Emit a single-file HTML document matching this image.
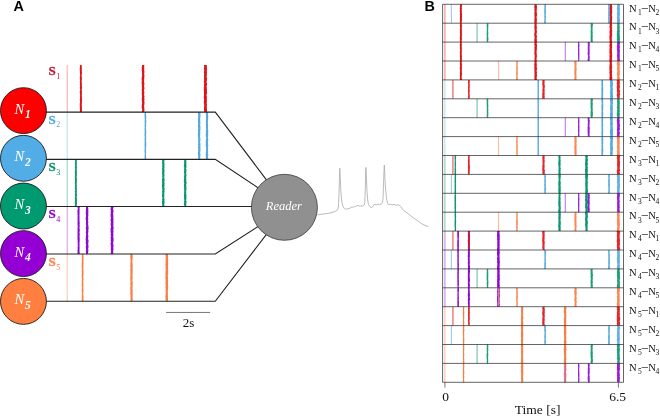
<!DOCTYPE html><html><head><meta charset="utf-8"><title>Figure</title><style>html,body{margin:0;padding:0;background:#fff}svg{display:block}text{font-family:"Liberation Serif",serif}.sans{font-family:"Liberation Sans",sans-serif;font-weight:bold}</style></head><body>
<svg width="660" height="416" viewBox="0 0 660 416">
<rect width="660" height="416" fill="#fff"/>
<line x1="67.2" y1="65.0" x2="67.2" y2="112.1" stroke="#f6a6a6" stroke-width="1"/>
<polygon points="79.87,65.00 80.02,66.00 79.97,67.00 79.76,68.01 79.75,69.01 79.76,70.01 79.92,71.01 79.79,72.01 80.01,73.02 79.98,74.02 80.16,75.02 80.11,76.02 79.79,77.03 79.87,78.03 79.81,79.03 80.01,80.03 79.97,81.03 79.76,82.04 80.03,83.04 79.87,84.04 79.93,85.04 80.08,86.04 79.84,87.05 79.96,88.05 80.05,89.05 80.16,90.05 79.91,91.06 79.80,92.06 79.75,93.06 80.07,94.06 80.11,95.06 80.04,96.07 79.99,97.07 80.10,98.07 79.94,99.07 79.76,100.07 80.01,101.08 80.09,102.08 79.90,103.08 79.74,104.08 79.80,105.09 79.76,106.09 79.79,107.09 79.90,108.09 79.77,109.09 79.97,110.10 80.09,111.10 79.85,112.10 81.81,112.10 82.01,111.10 82.02,110.10 81.83,109.09 82.01,108.09 81.74,107.09 81.97,106.09 81.68,105.09 81.83,104.08 81.92,103.08 81.76,102.08 82.07,101.08 81.94,100.07 81.92,99.07 82.04,98.07 81.83,97.07 81.89,96.07 81.77,95.06 81.88,94.06 81.92,93.06 81.85,92.06 81.96,91.06 81.68,90.05 81.76,89.05 82.01,88.05 81.88,87.05 81.94,86.04 81.76,85.04 81.89,84.04 81.82,83.04 81.72,82.04 81.66,81.03 81.79,80.03 81.89,79.03 81.99,78.03 81.68,77.03 81.76,76.02 81.65,75.02 81.80,74.02 82.05,73.02 81.73,72.01 81.99,71.01 81.67,70.01 81.82,69.01 81.85,68.01 81.79,67.00 81.66,66.00 81.70,65.00" fill="#e01418" opacity="1.0"/>
<polygon points="141.82,65.00 142.15,66.00 141.72,67.00 141.75,68.01 141.95,69.01 141.63,70.01 141.83,71.01 142.15,72.01 141.91,73.02 142.00,74.02 142.12,75.02 142.11,76.02 141.84,77.03 141.68,78.03 141.66,79.03 141.74,80.03 141.81,81.03 141.62,82.04 141.68,83.04 141.64,84.04 141.96,85.04 141.76,86.04 141.82,87.05 142.09,88.05 141.88,89.05 141.67,90.05 141.81,91.06 142.08,92.06 141.64,93.06 141.92,94.06 141.92,95.06 141.92,96.07 142.10,97.07 141.77,98.07 141.72,99.07 141.92,100.07 141.81,101.08 142.07,102.08 142.10,103.08 142.08,104.08 141.75,105.09 141.82,106.09 141.64,107.09 141.77,108.09 142.15,109.09 142.14,110.10 142.15,111.10 141.75,112.10 144.15,112.10 144.23,111.10 144.57,110.10 144.27,109.09 144.41,108.09 144.18,107.09 144.04,106.09 144.31,105.09 144.43,104.08 144.47,103.08 144.57,102.08 144.15,101.08 144.45,100.07 144.45,99.07 144.23,98.07 144.41,97.07 144.57,96.07 144.04,95.06 144.10,94.06 144.55,93.06 144.11,92.06 144.17,91.06 144.08,90.05 144.29,89.05 144.57,88.05 144.09,87.05 144.22,86.04 144.11,85.04 144.51,84.04 144.22,83.04 144.11,82.04 144.05,81.03 144.11,80.03 144.06,79.03 144.37,78.03 144.24,77.03 144.46,76.02 144.46,75.02 144.05,74.02 144.37,73.02 144.41,72.01 144.34,71.01 144.26,70.01 144.17,69.01 144.29,68.01 144.15,67.00 144.11,66.00 144.51,65.00" fill="#e01418" opacity="1.0"/>
<polygon points="203.80,65.00 204.08,66.00 204.22,67.00 204.10,68.01 203.73,69.01 204.26,70.01 204.16,71.01 203.79,72.01 203.89,73.02 204.30,74.02 203.94,75.02 204.15,76.02 203.76,77.03 204.26,78.03 203.77,79.03 204.31,80.03 203.90,81.03 203.76,82.04 204.30,83.04 204.02,84.04 203.96,85.04 204.21,86.04 203.84,87.05 203.83,88.05 203.84,89.05 203.76,90.05 203.91,91.06 204.05,92.06 203.95,93.06 204.00,94.06 204.02,95.06 203.96,96.07 203.68,97.07 203.79,98.07 204.15,99.07 203.89,100.07 204.04,101.08 203.75,102.08 203.84,103.08 204.18,104.08 204.04,105.09 204.27,106.09 204.07,107.09 204.01,108.09 203.97,109.09 203.99,110.10 204.13,111.10 204.29,112.10 206.64,112.10 207.04,111.10 207.09,110.10 206.82,109.09 206.92,108.09 206.80,107.09 206.76,106.09 206.97,105.09 206.80,104.08 206.66,103.08 206.84,102.08 206.98,101.08 206.81,100.07 206.84,99.07 206.78,98.07 206.99,97.07 206.60,96.07 206.49,95.06 206.82,94.06 207.07,93.06 207.06,92.06 206.77,91.06 207.06,90.05 206.75,89.05 206.86,88.05 206.67,87.05 206.61,86.04 207.04,85.04 207.08,84.04 206.90,83.04 206.49,82.04 206.83,81.03 206.90,80.03 207.01,79.03 207.00,78.03 206.57,77.03 206.59,76.02 207.09,75.02 206.73,74.02 206.99,73.02 206.99,72.01 206.79,71.01 206.98,70.01 206.90,69.01 206.99,68.01 206.79,67.00 207.06,66.00 206.61,65.00" fill="#e01418" opacity="1.0"/>
<line x1="67.2" y1="112.1" x2="67.2" y2="159.4" stroke="#b5dbf3" stroke-width="1"/>
<polygon points="144.67,112.10 144.77,113.11 144.52,114.11 144.50,115.12 144.50,116.13 144.75,117.13 144.53,118.14 144.71,119.14 144.78,120.15 144.55,121.16 144.61,122.16 144.82,123.17 144.53,124.18 144.66,125.18 144.54,126.19 144.73,127.20 144.67,128.20 144.48,129.21 144.69,130.21 144.50,131.22 144.75,132.23 144.51,133.23 144.49,134.24 144.57,135.25 144.62,136.25 144.76,137.26 144.53,138.27 144.67,139.27 144.51,140.28 144.72,141.29 144.50,142.29 144.70,143.30 144.51,144.30 144.50,145.31 144.63,146.32 144.67,147.32 144.57,148.33 144.66,149.34 144.51,150.34 144.49,151.35 144.58,152.36 144.74,153.36 144.65,154.37 144.60,155.37 144.56,156.38 144.73,157.39 144.54,158.39 144.80,159.40 146.01,159.40 146.14,158.39 146.17,157.39 145.98,156.38 145.98,155.37 146.04,154.37 146.08,153.36 146.08,152.36 146.05,151.35 146.03,150.34 146.06,149.34 146.02,148.33 146.30,147.32 146.09,146.32 146.28,145.31 146.27,144.30 146.25,143.30 146.30,142.29 146.12,141.29 146.00,140.28 146.22,139.27 146.30,138.27 146.07,137.26 146.29,136.25 146.02,135.25 146.25,134.24 146.07,133.23 146.31,132.23 146.32,131.22 146.15,130.21 146.09,129.21 146.13,128.20 145.98,127.20 146.09,126.19 146.09,125.18 146.13,124.18 146.27,123.17 146.15,122.16 146.31,121.16 146.31,120.15 146.03,119.14 146.22,118.14 146.29,117.13 146.21,116.13 146.06,115.12 146.13,114.11 146.02,113.11 146.30,112.10" fill="#55a9de" opacity="1.0"/>
<polygon points="198.26,112.10 198.10,113.11 198.05,114.11 198.20,115.12 198.02,116.13 198.20,117.13 198.05,118.14 197.87,119.14 197.88,120.15 197.98,121.16 197.89,122.16 198.29,123.17 197.99,124.18 197.99,125.18 197.93,126.19 197.98,127.20 198.34,128.20 197.97,129.21 198.00,130.21 197.85,131.22 198.09,132.23 197.95,133.23 197.85,134.24 197.89,135.25 197.87,136.25 198.00,137.26 198.14,138.27 198.23,139.27 198.21,140.28 198.04,141.29 198.35,142.29 198.21,143.30 197.87,144.30 198.30,145.31 198.22,146.32 197.92,147.32 198.10,148.33 198.25,149.34 198.14,150.34 198.19,151.35 197.96,152.36 197.91,153.36 197.90,154.37 198.13,155.37 198.16,156.38 198.09,157.39 198.25,158.39 198.10,159.40 200.32,159.40 200.43,158.39 200.05,157.39 200.39,156.38 200.36,155.37 200.47,154.37 200.23,153.36 200.06,152.36 200.40,151.35 200.50,150.34 200.47,149.34 200.47,148.33 200.31,147.32 200.46,146.32 200.36,145.31 200.47,144.30 200.37,143.30 200.12,142.29 200.21,141.29 200.49,140.28 200.38,139.27 200.31,138.27 200.16,137.26 200.06,136.25 200.25,135.25 200.18,134.24 200.30,133.23 200.30,132.23 200.24,131.22 200.23,130.21 200.54,129.21 200.32,128.20 200.53,127.20 200.27,126.19 200.28,125.18 200.17,124.18 200.39,123.17 200.47,122.16 200.13,121.16 200.42,120.15 200.11,119.14 200.22,118.14 200.37,117.13 200.47,116.13 200.54,115.12 200.30,114.11 200.47,113.11 200.27,112.10" fill="#55a9de" opacity="1.0"/>
<polygon points="205.98,112.10 206.02,113.11 205.68,114.11 206.02,115.12 206.02,116.13 205.90,117.13 205.89,118.14 206.04,119.14 205.97,120.15 205.72,121.16 206.02,122.16 205.93,123.17 205.68,124.18 205.99,125.18 205.99,126.19 205.91,127.20 205.88,128.20 206.10,129.21 206.14,130.21 205.66,131.22 206.06,132.23 205.87,133.23 205.75,134.24 205.75,135.25 205.72,136.25 206.13,137.26 206.06,138.27 206.10,139.27 205.76,140.28 205.89,141.29 205.65,142.29 205.88,143.30 205.72,144.30 205.81,145.31 205.65,146.32 206.07,147.32 206.12,148.33 206.10,149.34 205.84,150.34 206.15,151.35 205.83,152.36 205.79,153.36 205.70,154.37 205.79,155.37 205.77,156.38 205.91,157.39 205.84,158.39 206.10,159.40 208.26,159.40 208.33,158.39 207.94,157.39 207.98,156.38 208.32,155.37 208.27,154.37 207.87,153.36 208.06,152.36 208.15,151.35 208.05,150.34 207.99,149.34 208.21,148.33 207.91,147.32 208.23,146.32 208.27,145.31 208.02,144.30 208.00,143.30 208.10,142.29 207.86,141.29 208.30,140.28 208.20,139.27 208.10,138.27 207.91,137.26 208.11,136.25 208.14,135.25 208.33,134.24 207.98,133.23 208.34,132.23 208.08,131.22 208.32,130.21 207.95,129.21 207.91,128.20 208.08,127.20 207.99,126.19 208.20,125.18 207.98,124.18 207.85,123.17 208.00,122.16 207.98,121.16 207.89,120.15 208.16,119.14 208.19,118.14 208.04,117.13 208.34,116.13 207.95,115.12 207.98,114.11 207.97,113.11 207.88,112.10" fill="#55a9de" opacity="1.0"/>
<line x1="67.2" y1="159.4" x2="67.2" y2="206.5" stroke="#8fd1bb" stroke-width="1"/>
<polygon points="75.01,159.40 75.14,160.40 75.05,161.40 75.05,162.41 75.06,163.41 74.86,164.41 75.14,165.41 74.94,166.41 74.86,167.42 75.16,168.42 75.02,169.42 74.98,170.42 74.80,171.43 74.82,172.43 74.95,173.43 75.13,174.43 74.93,175.43 74.82,176.44 74.88,177.44 74.84,178.44 74.98,179.44 75.06,180.44 74.91,181.45 74.90,182.45 74.76,183.45 75.16,184.45 74.95,185.46 75.11,186.46 74.85,187.46 74.91,188.46 75.15,189.46 75.11,190.47 74.74,191.47 75.12,192.47 74.99,193.47 74.90,194.47 75.09,195.48 75.16,196.48 74.78,197.48 74.96,198.48 75.14,199.49 75.01,200.49 74.93,201.49 74.75,202.49 74.83,203.49 75.01,204.50 74.79,205.50 75.01,206.50 76.94,206.50 76.74,205.50 76.76,204.50 77.03,203.49 76.97,202.49 76.87,201.49 76.97,200.49 76.95,199.49 76.93,198.48 76.70,197.48 76.74,196.48 77.01,195.48 77.04,194.47 76.63,193.47 76.84,192.47 76.94,191.47 76.64,190.47 77.00,189.46 76.83,188.46 76.74,187.46 76.73,186.46 76.91,185.46 76.69,184.45 76.75,183.45 76.78,182.45 76.86,181.45 76.81,180.44 77.02,179.44 76.74,178.44 76.67,177.44 76.67,176.44 76.69,175.43 77.07,174.43 76.73,173.43 77.03,172.43 76.70,171.43 76.80,170.42 76.76,169.42 76.74,168.42 76.95,167.42 76.78,166.41 76.69,165.41 76.65,164.41 76.91,163.41 76.83,162.41 76.65,161.40 76.87,160.40 77.03,159.40" fill="#0a9670" opacity="1.0"/>
<polygon points="161.94,159.40 162.16,160.40 162.09,161.40 162.20,162.41 162.04,163.41 162.39,164.41 162.35,165.41 162.01,166.41 162.39,167.42 162.05,168.42 162.15,169.42 162.11,170.42 162.24,171.43 162.00,172.43 162.06,173.43 162.25,174.43 162.31,175.43 162.15,176.44 162.40,177.44 162.32,178.44 162.00,179.44 162.04,180.44 162.15,181.45 162.00,182.45 162.24,183.45 161.96,184.45 162.00,185.46 161.96,186.46 161.92,187.46 162.36,188.46 162.27,189.46 162.38,190.47 161.98,191.47 162.28,192.47 162.24,193.47 162.08,194.47 161.97,195.48 162.03,196.48 162.39,197.48 162.40,198.48 162.07,199.49 162.32,200.49 161.91,201.49 162.08,202.49 161.99,203.49 162.36,204.50 162.10,205.50 162.29,206.50 164.21,206.50 164.62,205.50 164.20,204.50 164.38,203.49 164.67,202.49 164.44,201.49 164.41,200.49 164.62,199.49 164.29,198.48 164.25,197.48 164.37,196.48 164.19,195.48 164.36,194.47 164.39,193.47 164.20,192.47 164.68,191.47 164.36,190.47 164.71,189.46 164.65,188.46 164.39,187.46 164.21,186.46 164.70,185.46 164.39,184.45 164.69,183.45 164.41,182.45 164.28,181.45 164.69,180.44 164.59,179.44 164.31,178.44 164.35,177.44 164.29,176.44 164.58,175.43 164.29,174.43 164.41,173.43 164.20,172.43 164.68,171.43 164.32,170.42 164.54,169.42 164.20,168.42 164.56,167.42 164.32,166.41 164.44,165.41 164.53,164.41 164.43,163.41 164.19,162.41 164.30,161.40 164.49,160.40 164.22,159.40" fill="#0a9670" opacity="1.0"/>
<polygon points="183.80,159.40 184.27,160.40 184.18,161.40 183.96,162.41 184.29,163.41 183.92,164.41 183.95,165.41 183.79,166.41 184.27,167.42 184.29,168.42 183.91,169.42 184.29,170.42 183.99,171.43 184.01,172.43 184.28,173.43 184.21,174.43 184.22,175.43 184.11,176.44 183.95,177.44 184.20,178.44 183.89,179.44 183.92,180.44 183.80,181.45 183.96,182.45 184.25,183.45 183.93,184.45 183.84,185.46 184.16,186.46 183.91,187.46 184.11,188.46 184.18,189.46 184.14,190.47 184.23,191.47 184.09,192.47 184.18,193.47 183.92,194.47 183.87,195.48 184.09,196.48 183.99,197.48 184.05,198.48 184.21,199.49 184.31,200.49 184.04,201.49 184.23,202.49 183.81,203.49 183.85,204.50 184.30,205.50 184.28,206.50 186.28,206.50 186.39,205.50 186.19,204.50 186.24,203.49 186.57,202.49 186.52,201.49 186.14,200.49 186.43,199.49 186.21,198.48 186.61,197.48 186.26,196.48 186.55,195.48 186.21,194.47 186.19,193.47 186.28,192.47 186.24,191.47 186.15,190.47 186.53,189.46 186.44,188.46 186.31,187.46 186.32,186.46 186.35,185.46 186.13,184.45 186.61,183.45 186.60,182.45 186.38,181.45 186.12,180.44 186.48,179.44 186.13,178.44 186.28,177.44 186.26,176.44 186.49,175.43 186.48,174.43 186.18,173.43 186.35,172.43 186.22,171.43 186.59,170.42 186.34,169.42 186.10,168.42 186.42,167.42 186.49,166.41 186.23,165.41 186.46,164.41 186.41,163.41 186.23,162.41 186.56,161.40 186.22,160.40 186.12,159.40" fill="#0a9670" opacity="1.0"/>
<line x1="67.2" y1="206.5" x2="67.2" y2="254.0" stroke="#d39af0" stroke-width="1"/>
<polygon points="77.77,206.50 77.49,207.49 77.81,208.48 77.64,209.47 77.47,210.46 77.43,211.45 77.49,212.44 77.67,213.43 77.37,214.42 77.68,215.41 77.51,216.40 77.74,217.39 77.40,218.38 77.55,219.36 77.66,220.35 77.44,221.34 77.56,222.33 77.51,223.32 77.51,224.31 77.53,225.30 77.77,226.29 77.54,227.28 77.71,228.27 77.37,229.26 77.56,230.25 77.56,231.24 77.58,232.23 77.38,233.22 77.66,234.21 77.41,235.20 77.54,236.19 77.44,237.18 77.61,238.17 77.42,239.16 77.74,240.15 77.46,241.14 77.80,242.12 77.59,243.11 77.80,244.10 77.79,245.09 77.75,246.08 77.73,247.07 77.56,248.06 77.75,249.05 77.47,250.04 77.61,251.03 77.43,252.02 77.70,253.01 77.39,254.00 79.63,254.00 79.78,253.01 79.48,252.02 79.55,251.03 79.55,250.04 79.45,249.05 79.76,248.06 79.47,247.07 79.44,246.08 79.66,245.09 79.55,244.10 79.39,243.11 79.82,242.12 79.43,241.14 79.82,240.15 79.60,239.16 79.80,238.17 79.50,237.18 79.60,236.19 79.66,235.20 79.79,234.21 79.62,233.22 79.44,232.23 79.78,231.24 79.75,230.25 79.79,229.26 79.46,228.27 79.46,227.28 79.83,226.29 79.56,225.30 79.63,224.31 79.81,223.32 79.50,222.33 79.69,221.34 79.41,220.35 79.62,219.36 79.42,218.38 79.62,217.39 79.46,216.40 79.45,215.41 79.52,214.42 79.46,213.43 79.65,212.44 79.46,211.45 79.54,210.46 79.66,209.47 79.42,208.48 79.73,207.49 79.58,206.50" fill="#8f0ad0" opacity="1.0"/>
<polygon points="86.04,206.50 86.09,207.49 85.96,208.48 85.97,209.47 85.86,210.46 85.86,211.45 85.87,212.44 85.64,213.43 85.89,214.42 86.05,215.41 85.88,216.40 85.89,217.39 85.69,218.38 85.67,219.36 85.91,220.35 85.98,221.34 86.03,222.33 85.91,223.32 85.90,224.31 86.15,225.30 86.10,226.29 86.03,227.28 85.73,228.27 85.90,229.26 86.13,230.25 86.06,231.24 85.66,232.23 86.04,233.22 86.12,234.21 86.07,235.20 85.90,236.19 85.74,237.18 85.90,238.17 85.64,239.16 85.71,240.15 86.00,241.14 85.72,242.12 85.69,243.11 85.98,244.10 86.11,245.09 85.94,246.08 85.68,247.07 85.97,248.06 86.06,249.05 86.17,250.04 85.82,251.03 85.87,252.02 86.03,253.01 86.08,254.00 88.16,254.00 88.05,253.01 88.12,252.02 88.45,251.03 88.34,250.04 88.17,249.05 88.24,248.06 88.57,247.07 88.51,246.08 88.33,245.09 88.22,244.10 88.32,243.11 88.46,242.12 88.52,241.14 88.54,240.15 88.12,239.16 88.20,238.17 88.17,237.18 88.53,236.19 88.10,235.20 88.18,234.21 88.11,233.22 88.22,232.23 88.54,231.24 88.11,230.25 88.55,229.26 88.57,228.27 88.47,227.28 88.57,226.29 88.10,225.30 88.23,224.31 88.05,223.32 88.45,222.33 88.07,221.34 88.05,220.35 88.27,219.36 88.26,218.38 88.08,217.39 88.12,216.40 88.46,215.41 88.15,214.42 88.37,213.43 88.27,212.44 88.39,211.45 88.35,210.46 88.19,209.47 88.33,208.48 88.09,207.49 88.04,206.50" fill="#8f0ad0" opacity="1.0"/>
<polygon points="110.88,206.50 110.85,207.49 110.69,208.48 110.52,209.47 110.87,210.46 110.81,211.45 110.58,212.44 110.89,213.43 110.50,214.42 110.56,215.41 110.63,216.40 110.85,217.39 110.87,218.38 110.58,219.36 110.65,220.35 110.56,221.34 111.02,222.33 110.74,223.32 110.51,224.31 110.84,225.30 110.89,226.29 111.06,227.28 110.65,228.27 110.53,229.26 110.74,230.25 110.54,231.24 110.51,232.23 111.06,233.22 110.62,234.21 110.80,235.20 110.99,236.19 110.69,237.18 110.53,238.17 110.97,239.16 110.50,240.15 110.95,241.14 110.95,242.12 110.64,243.11 110.64,244.10 110.70,245.09 110.92,246.08 110.93,247.07 110.83,248.06 110.97,249.05 110.66,250.04 111.08,251.03 111.03,252.02 110.66,253.01 110.95,254.00 113.67,254.00 113.24,253.01 113.11,252.02 113.23,251.03 113.49,250.04 113.41,249.05 113.36,248.06 113.26,247.07 113.61,246.08 113.55,245.09 113.12,244.10 113.16,243.11 113.37,242.12 113.38,241.14 113.61,240.15 113.53,239.16 113.63,238.17 113.28,237.18 113.20,236.19 113.48,235.20 113.46,234.21 113.19,233.22 113.43,232.23 113.57,231.24 113.24,230.25 113.42,229.26 113.64,228.27 113.54,227.28 113.37,226.29 113.31,225.30 113.49,224.31 113.26,223.32 113.57,222.33 113.48,221.34 113.19,220.35 113.66,219.36 113.38,218.38 113.22,217.39 113.45,216.40 113.31,215.41 113.31,214.42 113.11,213.43 113.24,212.44 113.64,211.45 113.36,210.46 113.19,209.47 113.10,208.48 113.50,207.49 113.69,206.50" fill="#8f0ad0" opacity="1.0"/>
<line x1="67.2" y1="254.0" x2="67.2" y2="301.3" stroke="#fdc3a6" stroke-width="1"/>
<polygon points="81.89,254.00 81.94,255.01 81.70,256.01 81.85,257.02 81.86,258.03 81.79,259.03 81.87,260.04 81.78,261.04 81.83,262.05 81.69,263.06 81.64,264.06 81.67,265.07 81.65,266.08 81.74,267.08 81.63,268.09 81.87,269.10 81.87,270.10 81.64,271.11 81.75,272.11 81.92,273.12 81.64,274.13 81.95,275.13 81.65,276.14 81.66,277.15 81.93,278.15 81.85,279.16 81.85,280.17 81.65,281.17 81.90,282.18 81.73,283.19 81.62,284.19 81.72,285.20 81.75,286.20 81.97,287.21 81.93,288.22 81.63,289.22 81.78,290.23 81.74,291.24 81.81,292.24 81.93,293.25 81.92,294.26 81.62,295.26 81.90,296.27 81.62,297.27 81.80,298.28 81.68,299.29 81.74,300.29 81.71,301.30 83.56,301.30 83.52,300.29 83.40,299.29 83.51,298.28 83.40,297.27 83.58,296.27 83.29,295.26 83.28,294.26 83.25,293.25 83.30,292.24 83.48,291.24 83.50,290.23 83.37,289.22 83.44,288.22 83.40,287.21 83.33,286.20 83.48,285.20 83.31,284.19 83.37,283.19 83.29,282.18 83.25,281.17 83.32,280.17 83.52,279.16 83.52,278.15 83.23,277.15 83.29,276.14 83.56,275.13 83.54,274.13 83.54,273.12 83.52,272.11 83.43,271.11 83.49,270.10 83.45,269.10 83.23,268.09 83.27,267.08 83.56,266.08 83.23,265.07 83.55,264.06 83.45,263.06 83.33,262.05 83.48,261.04 83.53,260.04 83.53,259.03 83.58,258.03 83.47,257.02 83.55,256.01 83.34,255.01 83.34,254.00" fill="#f97e45" opacity="1.0"/>
<polygon points="130.29,254.00 130.50,255.01 130.20,256.01 130.19,257.02 130.50,258.03 130.46,259.03 130.35,260.04 130.60,261.04 130.60,262.05 130.25,263.06 130.60,264.06 130.34,265.07 130.26,266.08 130.42,267.08 130.53,268.09 130.32,269.10 130.23,270.10 130.48,271.11 130.23,272.11 130.54,273.12 130.21,274.13 130.60,275.13 130.24,276.14 130.50,277.15 130.22,278.15 130.27,279.16 130.41,280.17 130.31,281.17 130.64,282.18 130.20,283.19 130.20,284.19 130.65,285.20 130.52,286.20 130.25,287.21 130.20,288.22 130.34,289.22 130.35,290.23 130.50,291.24 130.47,292.24 130.22,293.25 130.35,294.26 130.61,295.26 130.44,296.27 130.36,297.27 130.51,298.28 130.54,299.29 130.58,300.29 130.47,301.30 132.58,301.30 132.69,300.29 132.70,299.29 132.79,298.28 132.46,297.27 132.73,296.27 132.56,295.26 132.72,294.26 132.65,293.25 132.58,292.24 132.60,291.24 132.75,290.23 132.36,289.22 132.45,288.22 132.67,287.21 132.57,286.20 132.75,285.20 132.54,284.19 132.83,283.19 132.72,282.18 132.44,281.17 132.43,280.17 132.51,279.16 132.43,278.15 132.77,277.15 132.50,276.14 132.47,275.13 132.58,274.13 132.64,273.12 132.57,272.11 132.72,271.11 132.77,270.10 132.51,269.10 132.67,268.09 132.73,267.08 132.58,266.08 132.79,265.07 132.60,264.06 132.48,263.06 132.36,262.05 132.39,261.04 132.55,260.04 132.53,259.03 132.75,258.03 132.75,257.02 132.67,256.01 132.60,255.01 132.46,254.00" fill="#f97e45" opacity="1.0"/>
<polygon points="165.50,254.00 165.38,255.01 165.76,256.01 165.67,257.02 165.56,258.03 165.67,259.03 165.70,260.04 165.42,261.04 165.75,262.05 165.59,263.06 165.34,264.06 165.41,265.07 165.84,266.08 165.38,267.08 165.62,268.09 165.61,269.10 165.78,270.10 165.55,271.11 165.44,272.11 165.54,273.12 165.39,274.13 165.52,275.13 165.48,276.14 165.33,277.15 165.56,278.15 165.52,279.16 165.45,280.17 165.84,281.17 165.44,282.18 165.54,283.19 165.39,284.19 165.77,285.20 165.58,286.20 165.45,287.21 165.52,288.22 165.78,289.22 165.58,290.23 165.63,291.24 165.78,292.24 165.79,293.25 165.53,294.26 165.56,295.26 165.32,296.27 165.48,297.27 165.49,298.28 165.56,299.29 165.69,300.29 165.84,301.30 168.20,301.30 167.92,300.29 168.08,299.29 167.99,298.28 167.86,297.27 168.12,296.27 167.83,295.26 167.86,294.26 167.87,293.25 167.92,292.24 167.79,291.24 167.89,290.23 168.18,289.22 168.08,288.22 168.26,287.21 168.03,286.20 168.07,285.20 168.15,284.19 167.84,283.19 168.17,282.18 168.01,281.17 168.13,280.17 167.87,279.16 168.11,278.15 167.95,277.15 167.94,276.14 167.75,275.13 168.27,274.13 168.15,273.12 168.10,272.11 168.25,271.11 168.01,270.10 168.08,269.10 168.12,268.09 168.04,267.08 168.01,266.08 168.16,265.07 168.02,264.06 168.26,263.06 167.94,262.05 168.09,261.04 168.24,260.04 167.95,259.03 167.98,258.03 167.86,257.02 168.12,256.01 167.96,255.01 168.07,254.00" fill="#f97e45" opacity="1.0"/>
<polyline points="40,112.1 215.3,112.1 268.5,182.6" fill="none" stroke="#222" stroke-width="1.1" stroke-linejoin="miter"/>
<polyline points="40,159.4 215.3,159.4 263,191.0" fill="none" stroke="#222" stroke-width="1.1" stroke-linejoin="miter"/>
<polyline points="40,206.5 255,206.5" fill="none" stroke="#222" stroke-width="1.1"/>
<polyline points="40,254.0 215.3,254.0 263,223.3" fill="none" stroke="#222" stroke-width="1.1" stroke-linejoin="miter"/>
<polyline points="40,301.3 215.3,301.3 268.5,231.6" fill="none" stroke="#222" stroke-width="1.1" stroke-linejoin="miter"/>
<circle cx="23.45" cy="110.65" r="22.95" fill="#ff0000" stroke="#1a1a1a" stroke-width="0.9"/>
<text x="14.6" y="113.6" font-size="14.5" font-style="italic" fill="#fff">N</text>
<text x="25.1" y="118.2" font-size="11.5" font-style="italic" font-weight="bold" fill="#fff">1</text>
<circle cx="23.45" cy="158.3" r="22.95" fill="#52ade6" stroke="#1a1a1a" stroke-width="0.9"/>
<text x="14.6" y="161.2" font-size="14.5" font-style="italic" fill="#fff">N</text>
<text x="25.1" y="165.9" font-size="11.5" font-style="italic" font-weight="bold" fill="#fff">2</text>
<circle cx="23.45" cy="206.05" r="22.95" fill="#009a70" stroke="#1a1a1a" stroke-width="0.9"/>
<text x="14.6" y="209.0" font-size="14.5" font-style="italic" fill="#fff">N</text>
<text x="25.1" y="213.7" font-size="11.5" font-style="italic" font-weight="bold" fill="#fff">3</text>
<circle cx="23.45" cy="253.6" r="22.95" fill="#9400d3" stroke="#1a1a1a" stroke-width="0.9"/>
<text x="14.6" y="256.5" font-size="14.5" font-style="italic" fill="#fff">N</text>
<text x="25.1" y="261.2" font-size="11.5" font-style="italic" font-weight="bold" fill="#fff">4</text>
<circle cx="23.45" cy="301.4" r="22.95" fill="#ff7f40" stroke="#1a1a1a" stroke-width="0.9"/>
<text x="14.6" y="304.3" font-size="14.5" font-style="italic" fill="#fff">N</text>
<text x="25.1" y="309.0" font-size="11.5" font-style="italic" font-weight="bold" fill="#fff">5</text>
<text x="48.6" y="74.8" font-size="13" font-weight="bold" fill="#c8142c" stroke="#c8142c" stroke-width="0.3">S</text>
<text x="56.3" y="78.5" font-size="8" fill="#c8142c">1</text>
<text x="48.6" y="123.7" font-size="13" font-weight="bold" fill="#56a8e0" stroke="#56a8e0" stroke-width="0.3">S</text>
<text x="56.3" y="127.4" font-size="8" fill="#56a8e0">2</text>
<text x="48.6" y="171.2" font-size="13" font-weight="bold" fill="#0a9068" stroke="#0a9068" stroke-width="0.3">S</text>
<text x="56.3" y="174.9" font-size="8" fill="#0a9068">3</text>
<text x="48.6" y="218.4" font-size="13" font-weight="bold" fill="#9400d3" stroke="#9400d3" stroke-width="0.3">S</text>
<text x="56.3" y="222.1" font-size="8" fill="#9400d3">4</text>
<text x="48.6" y="266.1" font-size="13" font-weight="bold" fill="#ff8044" stroke="#ff8044" stroke-width="0.3">S</text>
<text x="56.3" y="269.8" font-size="8" fill="#ff8044">5</text>
<circle cx="284.4" cy="207.3" r="33" fill="#909090" stroke="#3a3a3a" stroke-width="0.8"/>
<text x="265.8" y="209.8" font-size="12.5" font-style="italic" fill="#fff">Reader</text>
<polyline points="317.3,214.9 322,214.2 328.3,213.4 332,212.5 335.6,211.3 337.6,209.8 338.4,207 339.0,195 339.5,175 339.8,168.2 340.2,176 340.9,192 341.8,202 342.9,206.1 344.2,208.4 345.6,209.4 347.5,208.6 349,208.9 350.5,207.6 352,207 353.5,207.3 355,206.2 356.6,206.1 358,205.2 359.5,206.2 361,205.9 363,206.1 364.2,205 364.8,202.5 365.3,188 365.7,172 365.9,167.4 366.3,175 367,191.5 367.7,200 368.4,204.3 369.8,206.6 371.2,207.6 372.6,206.9 373.6,205.2 374.8,204.3 376.5,204.9 378,204 379.5,204.6 381.2,204.3 382.4,202.6 383,198.8 383.6,182 384.0,170 384.3,165 384.7,172 385.2,184 385.8,191.5 386.6,199 387.6,203.4 389,204.6 390.4,204.3 392,204.9 394,204.5 396,205.4 397.5,204.8 399.5,205.2 400.8,206.6 402.2,208.9 405,211.5 408,213.6 412.3,217.1 417,220.3 421.4,223.5 425,225.4 428.4,226.6" fill="none" stroke="#aaaaaa" stroke-width="0.8" stroke-linejoin="round"/>
<line x1="166.1" y1="312.45" x2="210.1" y2="312.45" stroke="#666" stroke-width="0.9"/>
<text x="188.6" y="326.7" font-size="13" text-anchor="middle" fill="#111">2s</text>
<text class="sans" x="13.6" y="10.7" font-size="14.4" fill="#000">A</text>
<text class="sans" x="424.5" y="10.6" font-size="14.4" fill="#000">B</text>
<line x1="444.9" y1="4.30" x2="444.9" y2="23.20" stroke="#f7abab" stroke-width="1.5"/>
<polygon points="459.76,4.30 460.13,5.29 459.79,6.29 460.01,7.28 459.74,8.28 460.02,9.27 459.78,10.27 459.83,11.26 459.88,12.26 460.13,13.25 459.80,14.25 460.00,15.24 460.02,16.24 460.08,17.23 459.82,18.23 459.96,19.22 459.92,20.22 459.97,21.21 459.83,22.21 459.95,23.20 461.66,23.20 461.69,22.21 461.75,21.21 462.02,20.22 461.96,19.22 461.93,18.23 462.00,17.23 462.02,16.24 461.97,15.24 462.02,14.25 461.98,13.25 461.70,12.26 461.97,11.26 461.69,10.27 461.74,9.27 462.05,8.28 461.64,7.28 462.00,6.29 461.97,5.29 461.99,4.30" fill="#e01418" opacity="1.0"/>
<polygon points="534.43,4.30 534.45,5.29 534.47,6.29 534.19,7.28 534.43,8.28 534.54,9.27 534.38,10.27 534.69,11.26 534.52,12.26 534.20,13.25 534.55,14.25 534.36,15.24 534.46,16.24 534.66,17.23 534.57,18.23 534.36,19.22 534.38,20.22 534.46,21.21 534.30,22.21 534.41,23.20 536.78,23.20 536.72,22.21 536.89,21.21 536.74,20.22 536.94,19.22 536.82,18.23 536.50,17.23 536.74,16.24 537.01,15.24 536.98,14.25 536.81,13.25 536.82,12.26 536.52,11.26 536.71,10.27 536.93,9.27 536.78,8.28 536.93,7.28 536.94,6.29 536.75,5.29 536.56,4.30" fill="#e01418" opacity="1.0"/>
<polygon points="609.74,4.30 609.74,5.29 609.55,6.29 609.55,7.28 609.64,8.28 609.45,9.27 609.43,10.27 609.63,11.26 609.28,12.26 609.77,13.25 609.29,14.25 609.27,15.24 609.79,16.24 609.64,17.23 609.79,18.23 609.62,19.22 609.66,20.22 609.65,21.21 609.65,22.21 609.70,23.20 611.82,23.20 612.03,22.21 611.88,21.21 612.11,20.22 612.12,19.22 612.11,18.23 612.22,17.23 612.11,16.24 611.87,15.24 611.93,14.25 612.08,13.25 612.18,12.26 612.21,11.26 612.10,10.27 611.94,9.27 612.22,8.28 612.32,7.28 611.92,6.29 611.99,5.29 611.93,4.30" fill="#e01418" opacity="1.0"/>
<line x1="451.4" y1="4.30" x2="451.4" y2="23.20" stroke="#86bde3" stroke-width="1.1" opacity="0.8"/>
<polygon points="544.12,4.30 544.36,5.29 544.31,6.29 544.38,7.28 544.27,8.28 544.17,9.27 544.18,10.27 544.31,11.26 544.08,12.26 544.07,13.25 544.37,14.25 544.41,15.24 544.06,16.24 544.29,17.23 544.44,18.23 544.22,19.22 544.31,20.22 544.11,21.21 544.06,22.21 544.10,23.20 546.13,23.20 546.02,22.21 545.76,21.21 545.84,20.22 545.79,19.22 545.94,18.23 546.12,17.23 545.91,16.24 545.93,15.24 545.98,14.25 545.80,13.25 545.98,12.26 546.12,11.26 545.92,10.27 545.92,9.27 545.86,8.28 546.06,7.28 545.90,6.29 546.11,5.29 545.77,4.30" fill="#55a9de" opacity="0.92"/>
<polygon points="607.99,4.30 608.00,5.29 608.24,6.29 608.24,7.28 607.97,8.28 608.23,9.27 608.24,10.27 608.20,11.26 608.13,12.26 608.05,13.25 608.24,14.25 607.96,15.24 608.27,16.24 608.08,17.23 608.02,18.23 608.14,19.22 608.10,20.22 608.13,21.21 608.01,22.21 608.10,23.20 609.91,23.20 609.97,22.21 609.92,21.21 609.88,20.22 609.68,19.22 609.99,18.23 609.94,17.23 609.69,16.24 609.91,15.24 609.66,14.25 610.03,13.25 610.02,12.26 609.93,11.26 609.69,10.27 609.99,9.27 609.96,8.28 609.73,7.28 609.75,6.29 609.66,5.29 609.99,4.30" fill="#55a9de" opacity="0.92"/>
<polygon points="617.13,4.30 616.98,5.29 617.33,6.29 617.09,7.28 616.78,8.28 617.18,9.27 616.95,10.27 617.35,11.26 617.11,12.26 617.01,13.25 616.97,14.25 617.11,15.24 617.24,16.24 616.74,17.23 617.00,18.23 617.25,19.22 616.76,20.22 617.24,21.21 617.09,22.21 617.27,23.20 619.94,23.20 619.61,22.21 619.98,21.21 619.96,20.22 619.99,19.22 619.80,18.23 619.60,17.23 619.61,16.24 620.00,15.24 619.87,14.25 619.99,13.25 619.63,12.26 619.96,11.26 619.82,10.27 619.95,9.27 620.05,8.28 619.62,7.28 619.93,6.29 619.93,5.29 619.70,4.30" fill="#55a9de" opacity="0.92"/>
<line x1="444.9" y1="23.20" x2="444.9" y2="42.10" stroke="#f7abab" stroke-width="1.5"/>
<polygon points="460.03,23.20 459.88,24.19 459.97,25.19 459.82,26.18 460.14,27.18 460.00,28.17 459.93,29.17 459.84,30.16 460.08,31.16 459.77,32.15 460.07,33.15 459.98,34.14 460.12,35.14 459.94,36.13 459.81,37.13 459.81,38.12 459.89,39.12 459.91,40.11 459.80,41.11 460.17,42.10 461.79,42.10 461.65,41.11 461.86,40.11 461.88,39.12 461.94,38.12 461.72,37.13 461.89,36.13 461.86,35.14 462.02,34.14 461.73,33.15 461.98,32.15 461.83,31.16 461.96,30.16 461.72,29.17 461.93,28.17 461.73,27.18 461.96,26.18 461.98,25.19 461.67,24.19 462.03,23.20" fill="#e01418" opacity="1.0"/>
<polygon points="534.24,23.20 534.60,24.19 534.50,25.19 534.46,26.18 534.20,27.18 534.64,28.17 534.49,29.17 534.60,30.16 534.69,31.16 534.62,32.15 534.32,33.15 534.29,34.14 534.23,35.14 534.48,36.13 534.43,37.13 534.67,38.12 534.50,39.12 534.25,40.11 534.32,41.11 534.52,42.10 536.99,42.10 536.78,41.11 536.99,40.11 536.70,39.12 536.52,38.12 536.99,37.13 536.95,36.13 536.51,35.14 536.58,34.14 536.50,33.15 537.00,32.15 536.89,31.16 536.71,30.16 536.62,29.17 536.74,28.17 537.01,27.18 536.50,26.18 536.67,25.19 536.57,24.19 536.82,23.20" fill="#e01418" opacity="1.0"/>
<polygon points="609.65,23.20 609.52,24.19 609.82,25.19 609.39,26.18 609.41,27.18 609.78,28.17 609.74,29.17 609.72,30.16 609.63,31.16 609.29,32.15 609.70,33.15 609.65,34.14 609.60,35.14 609.32,36.13 609.41,37.13 609.54,38.12 609.40,39.12 609.65,40.11 609.68,41.11 609.28,42.10 612.30,42.10 611.87,41.11 611.77,40.11 611.84,39.12 611.86,38.12 611.83,37.13 611.95,36.13 612.20,35.14 611.93,34.14 612.30,33.15 611.85,32.15 612.33,31.16 612.17,30.16 611.79,29.17 612.28,28.17 611.96,27.18 611.78,26.18 612.33,25.19 611.85,24.19 611.99,23.20" fill="#e01418" opacity="1.0"/>
<line x1="477.1" y1="23.20" x2="477.1" y2="42.10" stroke="#57b99a" stroke-width="1.2" opacity="0.8"/>
<polygon points="486.65,23.20 486.88,24.19 486.63,25.19 486.61,26.18 486.87,27.18 486.73,28.17 486.86,29.17 486.79,30.16 486.65,31.16 486.82,32.15 486.63,33.15 486.67,34.14 486.63,35.14 486.87,36.13 486.64,37.13 486.69,38.12 486.62,39.12 486.60,40.11 486.81,41.11 486.74,42.10 488.18,42.10 488.15,41.11 488.39,40.11 488.42,39.12 488.39,38.12 488.25,37.13 488.19,36.13 488.17,35.14 488.22,34.14 488.38,33.15 488.27,32.15 488.10,31.16 488.13,30.16 488.24,29.17 488.19,28.17 488.29,27.18 488.40,26.18 488.23,25.19 488.38,24.19 488.40,23.20" fill="#0a9670" opacity="0.92"/>
<polygon points="590.53,23.20 590.58,24.19 590.89,25.19 590.45,26.18 590.84,27.18 590.76,28.17 590.88,29.17 590.80,30.16 590.48,31.16 590.81,32.15 590.50,33.15 590.85,34.14 590.68,35.14 590.49,36.13 590.75,37.13 590.45,38.12 590.70,39.12 590.54,40.11 590.70,41.11 590.80,42.10 592.79,42.10 592.85,41.11 592.61,40.11 592.75,39.12 592.55,38.12 592.60,37.13 592.88,36.13 592.57,35.14 592.61,34.14 592.72,33.15 592.76,32.15 592.51,31.16 592.67,30.16 592.52,29.17 592.65,28.17 592.54,27.18 592.65,26.18 592.96,25.19 592.99,24.19 592.61,23.20" fill="#0a9670" opacity="0.92"/>
<polygon points="616.86,23.20 617.19,24.19 617.19,25.19 617.24,26.18 617.26,27.18 617.05,28.17 617.31,29.17 617.28,30.16 616.85,31.16 616.97,32.15 616.97,33.15 616.74,34.14 617.02,35.14 616.81,36.13 617.25,37.13 616.94,38.12 616.98,39.12 616.78,40.11 617.33,41.11 617.06,42.10 619.77,42.10 619.75,41.11 619.98,40.11 619.91,39.12 619.88,38.12 619.98,37.13 619.88,36.13 619.76,35.14 619.76,34.14 619.81,33.15 619.54,32.15 619.96,31.16 619.60,30.16 619.74,29.17 619.45,28.17 619.98,27.18 619.65,26.18 619.47,25.19 619.69,24.19 619.48,23.20" fill="#0a9670" opacity="0.92"/>
<line x1="444.9" y1="42.10" x2="444.9" y2="61.00" stroke="#f7abab" stroke-width="1.5"/>
<polygon points="459.97,42.10 460.15,43.09 459.81,44.09 459.84,45.08 459.74,46.08 460.04,47.07 459.74,48.07 459.98,49.06 460.04,50.06 460.11,51.05 459.75,52.05 459.95,53.04 459.85,54.04 459.91,55.03 459.99,56.03 459.80,57.02 460.06,58.02 460.09,59.01 459.90,60.01 460.10,61.00 461.86,61.00 461.82,60.01 462.04,59.01 461.70,58.02 461.88,57.02 462.01,56.03 461.69,55.03 461.68,54.04 461.85,53.04 461.68,52.05 461.95,51.05 461.68,50.06 461.86,49.06 461.89,48.07 461.72,47.07 461.67,46.08 461.99,45.08 461.68,44.09 461.73,43.09 461.64,42.10" fill="#e01418" opacity="1.0"/>
<polygon points="534.39,42.10 534.60,43.09 534.31,44.09 534.42,45.08 534.61,46.08 534.62,47.07 534.21,48.07 534.69,49.06 534.32,50.06 534.52,51.05 534.47,52.05 534.41,53.04 534.20,54.04 534.70,55.03 534.68,56.03 534.61,57.02 534.65,58.02 534.53,59.01 534.54,60.01 534.47,61.00 536.98,61.00 536.63,60.01 536.63,59.01 536.50,58.02 536.95,57.02 536.82,56.03 536.90,55.03 536.56,54.04 536.75,53.04 536.52,52.05 536.68,51.05 536.71,50.06 536.98,49.06 536.76,48.07 536.93,47.07 536.97,46.08 537.01,45.08 536.66,44.09 536.66,43.09 536.98,42.10" fill="#e01418" opacity="1.0"/>
<polygon points="609.62,42.10 609.56,43.09 609.81,44.09 609.44,45.08 609.33,46.08 609.81,47.07 609.42,48.07 609.57,49.06 609.33,50.06 609.43,51.05 609.43,52.05 609.31,53.04 609.75,54.04 609.59,55.03 609.38,56.03 609.53,57.02 609.62,58.02 609.44,59.01 609.39,60.01 609.48,61.00 612.10,61.00 612.06,60.01 611.90,59.01 612.03,58.02 612.08,57.02 612.17,56.03 612.14,55.03 612.11,54.04 612.08,53.04 611.90,52.05 612.00,51.05 611.84,50.06 611.85,49.06 612.03,48.07 612.06,47.07 612.10,46.08 612.14,45.08 611.93,44.09 612.01,43.09 611.91,42.10" fill="#e01418" opacity="1.0"/>
<line x1="565.3" y1="42.10" x2="565.3" y2="61.00" stroke="#b763e6" stroke-width="1.2" opacity="0.8"/>
<polygon points="577.90,42.10 578.16,43.09 578.07,44.09 577.99,45.08 577.99,46.08 577.95,47.07 578.16,48.07 577.92,49.06 578.03,50.06 577.93,51.05 578.19,52.05 577.95,53.04 578.01,54.04 578.08,55.03 578.15,56.03 578.12,57.02 578.13,58.02 578.14,59.01 578.17,60.01 578.16,61.00 579.20,61.00 579.24,60.01 579.41,59.01 579.34,58.02 579.42,57.02 579.36,56.03 579.45,55.03 579.40,54.04 579.30,53.04 579.42,52.05 579.27,51.05 579.42,50.06 579.32,49.06 579.33,48.07 579.22,47.07 579.43,46.08 579.50,45.08 579.35,44.09 579.27,43.09 579.31,42.10" fill="#8f0ad0" opacity="0.92"/>
<polygon points="587.87,42.10 587.75,43.09 587.78,44.09 587.87,45.08 587.80,46.08 587.73,47.07 587.85,48.07 587.70,49.06 587.70,50.06 587.88,51.05 587.75,52.05 587.61,53.04 587.59,54.04 587.79,55.03 587.93,56.03 587.90,57.02 587.95,58.02 587.72,59.01 587.54,60.01 587.78,61.00 589.65,61.00 589.45,60.01 589.83,59.01 589.52,58.02 589.80,57.02 589.57,56.03 589.47,55.03 589.68,54.04 589.56,53.04 589.63,52.05 589.80,51.05 589.57,50.06 589.67,49.06 589.56,48.07 589.63,47.07 589.60,46.08 589.81,45.08 589.61,44.09 589.85,43.09 589.69,42.10" fill="#8f0ad0" opacity="0.92"/>
<polygon points="617.31,42.10 617.07,43.09 617.06,44.09 617.17,45.08 616.96,46.08 616.96,47.07 617.16,48.07 616.80,49.06 616.99,50.06 617.10,51.05 617.34,52.05 617.01,53.04 617.36,54.04 617.07,55.03 616.84,56.03 617.35,57.02 617.06,58.02 617.30,59.01 617.25,60.01 617.29,61.00 619.70,61.00 620.06,60.01 619.87,59.01 619.51,58.02 619.95,57.02 619.64,56.03 619.95,55.03 619.65,54.04 619.83,53.04 619.74,52.05 619.99,51.05 619.79,50.06 619.67,49.06 619.77,48.07 620.03,47.07 619.81,46.08 619.68,45.08 619.76,44.09 620.06,43.09 619.92,42.10" fill="#8f0ad0" opacity="0.92"/>
<line x1="444.9" y1="61.00" x2="444.9" y2="79.90" stroke="#f7abab" stroke-width="1.5"/>
<polygon points="459.80,61.00 459.96,61.99 459.81,62.99 460.01,63.98 459.89,64.98 460.01,65.97 459.91,66.97 459.87,67.96 459.73,68.96 460.10,69.95 460.02,70.95 459.95,71.94 459.85,72.94 459.96,73.93 459.98,74.93 459.78,75.92 460.06,76.92 459.77,77.91 459.96,78.91 460.00,79.90 461.98,79.90 461.99,78.91 461.71,77.91 461.68,76.92 461.70,75.92 461.81,74.93 462.07,73.93 461.91,72.94 461.87,71.94 461.72,70.95 461.89,69.95 461.76,68.96 461.93,67.96 461.98,66.97 461.65,65.97 462.07,64.98 461.90,63.98 461.71,62.99 461.85,61.99 461.76,61.00" fill="#e01418" opacity="1.0"/>
<polygon points="534.22,61.00 534.59,61.99 534.56,62.99 534.27,63.98 534.24,64.98 534.49,65.97 534.42,66.97 534.21,67.96 534.49,68.96 534.42,69.95 534.32,70.95 534.68,71.94 534.35,72.94 534.62,73.93 534.50,74.93 534.45,75.92 534.31,76.92 534.57,77.91 534.35,78.91 534.44,79.90 536.91,79.90 536.95,78.91 536.60,77.91 536.69,76.92 536.99,75.92 536.99,74.93 536.65,73.93 536.96,72.94 536.94,71.94 536.51,70.95 536.81,69.95 536.99,68.96 536.96,67.96 536.69,66.97 536.67,65.97 536.96,64.98 536.63,63.98 536.67,62.99 536.66,61.99 536.49,61.00" fill="#e01418" opacity="1.0"/>
<polygon points="609.40,61.00 609.47,61.99 609.82,62.99 609.59,63.98 609.57,64.98 609.49,65.97 609.33,66.97 609.46,67.96 609.37,68.96 609.40,69.95 609.64,70.95 609.35,71.94 609.31,72.94 609.74,73.93 609.52,74.93 609.73,75.92 609.47,76.92 609.48,77.91 609.38,78.91 609.55,79.90 611.89,79.90 612.31,78.91 612.31,77.91 612.18,76.92 611.85,75.92 612.24,74.93 611.84,73.93 611.92,72.94 612.17,71.94 611.96,70.95 611.78,69.95 611.93,68.96 611.90,67.96 612.24,66.97 611.80,65.97 611.98,64.98 611.83,63.98 611.93,62.99 611.87,61.99 611.86,61.00" fill="#e01418" opacity="1.0"/>
<line x1="498.6" y1="61.00" x2="498.6" y2="79.90" stroke="#fba274" stroke-width="1.0" opacity="0.8"/>
<polygon points="516.23,61.00 516.32,61.99 516.39,62.99 516.20,63.98 516.29,64.98 516.38,65.97 516.25,66.97 516.17,67.96 516.21,68.96 516.27,69.95 516.21,70.95 516.14,71.94 516.19,72.94 516.11,73.93 516.20,74.93 516.18,75.92 516.18,76.92 516.12,77.91 516.17,78.91 516.39,79.90 517.85,79.90 517.72,78.91 517.83,77.91 517.66,76.92 517.60,75.92 517.75,74.93 517.77,73.93 517.81,72.94 517.87,71.94 517.61,70.95 517.68,69.95 517.80,68.96 517.84,67.96 517.76,66.97 517.62,65.97 517.65,64.98 517.66,63.98 517.78,62.99 517.67,61.99 517.62,61.00" fill="#f97e45" opacity="0.92"/>
<polygon points="574.64,61.00 574.27,61.99 574.22,62.99 574.53,63.98 574.41,64.98 574.55,65.97 574.62,66.97 574.51,67.96 574.26,68.96 574.56,69.95 574.23,70.95 574.29,71.94 574.35,72.94 574.23,73.93 574.52,74.93 574.61,75.92 574.55,76.92 574.42,77.91 574.38,78.91 574.61,79.90 576.68,79.90 576.31,78.91 576.64,77.91 576.43,76.92 576.58,75.92 576.39,74.93 576.46,73.93 576.49,72.94 576.40,71.94 576.33,70.95 576.65,69.95 576.75,68.96 576.40,67.96 576.48,66.97 576.43,65.97 576.63,64.98 576.48,63.98 576.64,62.99 576.44,61.99 576.73,61.00" fill="#f97e45" opacity="0.92"/>
<polygon points="616.92,61.00 617.27,61.99 616.77,62.99 616.81,63.98 616.87,64.98 617.21,65.97 617.17,66.97 617.20,67.96 616.91,68.96 617.33,69.95 617.32,70.95 617.20,71.94 617.13,72.94 616.77,73.93 617.01,74.93 617.32,75.92 617.21,76.92 617.18,77.91 616.90,78.91 617.34,79.90 619.84,79.90 619.78,78.91 619.94,77.91 619.47,76.92 619.52,75.92 619.76,74.93 619.87,73.93 619.72,72.94 619.96,71.94 619.87,70.95 619.70,69.95 619.49,68.96 619.95,67.96 619.68,66.97 619.49,65.97 620.01,64.98 619.93,63.98 619.59,62.99 619.82,61.99 619.47,61.00" fill="#f97e45" opacity="0.92"/>
<line x1="444.9" y1="79.90" x2="444.9" y2="98.80" stroke="#b9dcf3" stroke-width="1.0"/>
<line x1="538.20" y1="79.90" x2="538.20" y2="98.80" stroke="#55a9de" stroke-width="1.40" opacity="1.0"/>
<polygon points="601.47,79.90 601.28,80.89 601.42,81.89 601.38,82.88 601.53,83.88 601.35,84.87 601.46,85.87 601.62,86.86 601.37,87.86 601.31,88.85 601.38,89.85 601.47,90.84 601.32,91.84 601.49,92.83 601.55,93.83 601.30,94.82 601.40,95.82 601.28,96.81 601.33,97.81 601.43,98.80 603.00,98.80 603.23,97.81 603.06,96.81 603.03,95.82 603.07,94.82 603.28,93.83 603.13,92.83 603.22,91.84 603.25,90.84 603.27,89.85 603.17,88.85 603.30,87.86 603.09,86.86 603.13,85.87 603.05,84.87 603.22,83.88 603.01,82.88 603.03,81.89 603.09,80.89 603.05,79.90" fill="#55a9de" opacity="1.0"/>
<polygon points="610.04,79.90 610.06,80.89 609.88,81.89 610.46,82.88 609.89,83.88 610.45,84.87 609.91,85.87 610.11,86.86 610.18,87.86 610.41,88.85 610.23,89.85 610.25,90.84 609.99,91.84 609.86,92.83 610.36,93.83 609.95,94.82 610.37,95.82 609.94,96.81 610.36,97.81 610.04,98.80 612.65,98.80 613.00,97.81 613.03,96.81 613.12,95.82 612.94,94.82 612.72,93.83 613.02,92.83 612.62,91.84 612.70,90.84 613.12,89.85 612.94,88.85 612.54,87.86 612.66,86.86 612.84,85.87 612.89,84.87 612.99,83.88 613.01,82.88 612.55,81.89 612.64,80.89 612.83,79.90" fill="#55a9de" opacity="1.0"/>
<line x1="452.9" y1="79.90" x2="452.9" y2="98.80" stroke="#ec6b6b" stroke-width="1.6" opacity="0.8"/>
<polygon points="468.18,79.90 468.00,80.89 468.00,81.89 467.95,82.88 468.08,83.88 468.18,84.87 468.21,85.87 468.05,86.86 467.92,87.86 468.08,88.85 468.12,89.85 468.03,90.84 467.89,91.84 468.03,92.83 468.14,93.83 468.18,94.82 468.16,95.82 467.96,96.81 468.06,97.81 467.99,98.80 469.73,98.80 469.72,97.81 469.81,96.81 469.72,95.82 469.89,94.82 469.55,93.83 469.63,92.83 469.57,91.84 469.93,90.84 469.62,89.85 469.59,88.85 469.67,87.86 469.75,86.86 469.92,85.87 469.83,84.87 469.80,83.88 469.57,82.88 469.88,81.89 469.77,80.89 469.68,79.90" fill="#e01418" opacity="0.92"/>
<polygon points="542.44,79.90 542.56,80.89 542.24,81.89 542.38,82.88 542.19,83.88 542.26,84.87 542.60,85.87 542.54,86.86 542.60,87.86 542.52,88.85 542.44,89.85 542.24,90.84 542.59,91.84 542.43,92.83 542.27,93.83 542.10,94.82 542.44,95.82 542.13,96.81 542.28,97.81 542.31,98.80 544.67,98.80 544.69,97.81 544.74,96.81 544.62,95.82 544.48,94.82 544.85,93.83 544.54,92.83 544.64,91.84 544.69,90.84 544.71,89.85 544.42,88.85 544.71,87.86 544.90,86.86 544.87,85.87 544.63,84.87 544.43,83.88 544.57,82.88 544.62,81.89 544.47,80.89 544.82,79.90" fill="#e01418" opacity="0.92"/>
<polygon points="616.99,79.90 616.69,80.89 617.21,81.89 616.69,82.88 616.79,83.88 616.97,84.87 616.94,85.87 616.77,86.86 616.69,87.86 617.01,88.85 616.89,89.85 616.91,90.84 616.98,91.84 617.12,92.83 617.28,93.83 616.68,94.82 616.88,95.82 617.26,96.81 617.13,97.81 617.13,98.80 619.55,98.80 619.61,97.81 619.89,96.81 619.63,95.82 620.07,94.82 620.00,93.83 619.59,92.83 619.99,91.84 620.09,90.84 619.56,89.85 619.57,88.85 619.86,87.86 619.90,86.86 619.89,85.87 619.68,84.87 619.58,83.88 620.09,82.88 619.88,81.89 619.64,80.89 619.78,79.90" fill="#e01418" opacity="0.92"/>
<line x1="444.9" y1="98.80" x2="444.9" y2="117.70" stroke="#b9dcf3" stroke-width="1.0"/>
<line x1="538.20" y1="98.80" x2="538.20" y2="117.70" stroke="#55a9de" stroke-width="1.40" opacity="1.0"/>
<polygon points="601.35,98.80 601.26,99.79 601.34,100.79 601.53,101.78 601.60,102.78 601.60,103.77 601.61,104.77 601.32,105.76 601.39,106.76 601.52,107.75 601.30,108.75 601.54,109.74 601.54,110.74 601.49,111.73 601.47,112.73 601.30,113.72 601.52,114.72 601.33,115.71 601.58,116.71 601.30,117.70 602.96,117.70 603.18,116.71 603.13,115.71 603.05,114.72 603.32,113.72 603.27,112.73 602.99,111.73 602.97,110.74 603.33,109.74 603.10,108.75 603.28,107.75 603.25,106.76 603.25,105.76 603.30,104.77 603.17,103.77 603.20,102.78 603.12,101.78 603.07,100.79 603.19,99.79 603.10,98.80" fill="#55a9de" opacity="1.0"/>
<polygon points="609.91,98.80 609.95,99.79 610.02,100.79 610.08,101.78 610.38,102.78 610.27,103.77 610.43,104.77 610.05,105.76 610.15,106.76 610.34,107.75 609.95,108.75 610.26,109.74 610.13,110.74 610.37,111.73 610.38,112.73 609.89,113.72 609.97,114.72 610.21,115.71 609.94,116.71 610.13,117.70 612.90,117.70 612.76,116.71 612.57,115.71 613.10,114.72 612.74,113.72 612.92,112.73 612.78,111.73 612.64,110.74 612.78,109.74 613.05,108.75 612.56,107.75 613.08,106.76 612.63,105.76 612.55,104.77 613.04,103.77 612.87,102.78 612.63,101.78 612.97,100.79 612.88,99.79 613.04,98.80" fill="#55a9de" opacity="1.0"/>
<line x1="477.1" y1="98.80" x2="477.1" y2="117.70" stroke="#57b99a" stroke-width="1.2" opacity="0.8"/>
<polygon points="486.71,98.80 486.58,99.79 486.69,100.79 486.74,101.78 486.59,102.78 486.81,103.77 486.67,104.77 486.67,105.76 486.76,106.76 486.92,107.75 486.77,108.75 486.88,109.74 486.80,110.74 486.70,111.73 486.85,112.73 486.90,113.72 486.68,114.72 486.83,115.71 486.80,116.71 486.77,117.70 488.22,117.70 488.20,116.71 488.25,115.71 488.34,114.72 488.31,113.72 488.38,112.73 488.17,111.73 488.30,110.74 488.34,109.74 488.34,108.75 488.09,107.75 488.41,106.76 488.27,105.76 488.25,104.77 488.17,103.77 488.13,102.78 488.42,101.78 488.08,100.79 488.28,99.79 488.20,98.80" fill="#0a9670" opacity="0.92"/>
<polygon points="590.44,98.80 590.56,99.79 590.64,100.79 590.53,101.78 590.58,102.78 590.41,103.77 590.63,104.77 590.68,105.76 590.49,106.76 590.55,107.75 590.76,108.75 590.86,109.74 590.85,110.74 590.45,111.73 590.69,112.73 590.58,113.72 590.62,114.72 590.44,115.71 590.84,116.71 590.53,117.70 592.52,117.70 592.64,116.71 592.74,115.71 592.93,114.72 592.88,113.72 592.99,112.73 592.59,111.73 592.79,110.74 592.67,109.74 592.77,108.75 592.66,107.75 592.54,106.76 592.65,105.76 592.72,104.77 592.93,103.77 592.57,102.78 592.62,101.78 592.69,100.79 592.99,99.79 592.67,98.80" fill="#0a9670" opacity="0.92"/>
<polygon points="616.84,98.80 617.18,99.79 616.99,100.79 617.11,101.78 617.14,102.78 617.20,103.77 617.11,104.77 617.24,105.76 616.95,106.76 616.86,107.75 617.28,108.75 617.31,109.74 616.94,110.74 617.14,111.73 617.16,112.73 616.77,113.72 616.77,114.72 616.95,115.71 617.11,116.71 617.03,117.70 619.45,117.70 619.60,116.71 619.75,115.71 619.83,114.72 619.70,113.72 619.65,112.73 619.69,111.73 619.91,110.74 619.57,109.74 619.84,108.75 619.77,107.75 619.52,106.76 619.98,105.76 619.49,104.77 620.04,103.77 619.56,102.78 619.98,101.78 619.56,100.79 619.57,99.79 619.61,98.80" fill="#0a9670" opacity="0.92"/>
<line x1="444.9" y1="117.70" x2="444.9" y2="136.60" stroke="#b9dcf3" stroke-width="1.0"/>
<line x1="538.20" y1="117.70" x2="538.20" y2="136.60" stroke="#55a9de" stroke-width="1.40" opacity="1.0"/>
<polygon points="601.62,117.70 601.64,118.69 601.49,119.69 601.38,120.68 601.32,121.68 601.55,122.67 601.57,123.67 601.47,124.66 601.47,125.66 601.49,126.65 601.54,127.65 601.53,128.64 601.56,129.64 601.56,130.63 601.43,131.63 601.46,132.62 601.31,133.62 601.44,134.61 601.56,135.61 601.64,136.60 603.04,136.60 603.10,135.61 603.21,134.61 602.96,133.62 603.32,132.62 603.06,131.63 603.34,130.63 603.08,129.64 603.25,128.64 603.05,127.65 603.08,126.65 603.21,125.66 603.18,124.66 603.12,123.67 602.99,122.67 603.01,121.68 602.99,120.68 603.24,119.69 602.98,118.69 603.18,117.70" fill="#55a9de" opacity="1.0"/>
<polygon points="610.31,117.70 609.86,118.69 609.88,119.69 610.18,120.68 610.42,121.68 609.93,122.67 610.30,123.67 609.94,124.66 610.32,125.66 610.45,126.65 610.23,127.65 610.34,128.64 610.04,129.64 609.91,130.63 609.88,131.63 610.09,132.62 609.88,133.62 610.09,134.61 610.43,135.61 609.98,136.60 612.70,136.60 612.93,135.61 613.11,134.61 612.89,133.62 613.08,132.62 612.94,131.63 613.00,130.63 613.10,129.64 612.83,128.64 612.75,127.65 612.85,126.65 612.69,125.66 612.56,124.66 613.11,123.67 612.65,122.67 612.77,121.68 612.65,120.68 612.85,119.69 612.62,118.69 612.59,117.70" fill="#55a9de" opacity="1.0"/>
<line x1="565.3" y1="117.70" x2="565.3" y2="136.60" stroke="#b763e6" stroke-width="1.2" opacity="0.8"/>
<polygon points="577.98,117.70 577.97,118.69 578.13,119.69 577.99,120.68 577.96,121.68 577.95,122.67 578.16,123.67 578.13,124.66 577.98,125.66 578.05,126.65 577.95,127.65 578.08,128.64 578.07,129.64 577.96,130.63 578.01,131.63 578.16,132.62 578.16,133.62 577.99,134.61 577.93,135.61 577.90,136.60 579.47,136.60 579.49,135.61 579.21,134.61 579.50,133.62 579.25,132.62 579.43,131.63 579.47,130.63 579.46,129.64 579.34,128.64 579.40,127.65 579.47,126.65 579.30,125.66 579.45,124.66 579.28,123.67 579.46,122.67 579.37,121.68 579.50,120.68 579.39,119.69 579.26,118.69 579.33,117.70" fill="#8f0ad0" opacity="0.92"/>
<polygon points="587.60,117.70 587.57,118.69 587.83,119.69 587.68,120.68 587.84,121.68 587.96,122.67 587.63,123.67 587.83,124.66 587.75,125.66 587.72,126.65 587.54,127.65 587.67,128.64 587.58,129.64 587.59,130.63 587.61,131.63 587.60,132.62 587.75,133.62 587.69,134.61 587.93,135.61 587.63,136.60 589.85,136.60 589.58,135.61 589.65,134.61 589.48,133.62 589.75,132.62 589.73,131.63 589.62,130.63 589.64,129.64 589.82,128.64 589.87,127.65 589.48,126.65 589.53,125.66 589.45,124.66 589.78,123.67 589.45,122.67 589.82,121.68 589.83,120.68 589.47,119.69 589.50,118.69 589.75,117.70" fill="#8f0ad0" opacity="0.92"/>
<polygon points="617.29,117.70 616.91,118.69 616.90,119.69 616.77,120.68 616.99,121.68 616.96,122.67 617.17,123.67 617.08,124.66 617.17,125.66 617.28,126.65 616.99,127.65 617.00,128.64 616.98,129.64 616.99,130.63 617.36,131.63 617.12,132.62 616.90,133.62 616.97,134.61 616.86,135.61 617.26,136.60 619.93,136.60 619.51,135.61 619.59,134.61 619.82,133.62 620.02,132.62 619.44,131.63 619.53,130.63 619.68,129.64 620.04,128.64 619.64,127.65 619.89,126.65 620.05,125.66 619.78,124.66 619.85,123.67 619.45,122.67 619.79,121.68 619.76,120.68 619.48,119.69 619.55,118.69 619.89,117.70" fill="#8f0ad0" opacity="0.92"/>
<line x1="444.9" y1="136.60" x2="444.9" y2="155.50" stroke="#b9dcf3" stroke-width="1.0"/>
<line x1="538.20" y1="136.60" x2="538.20" y2="155.50" stroke="#55a9de" stroke-width="1.40" opacity="1.0"/>
<polygon points="601.61,136.60 601.53,137.59 601.51,138.59 601.38,139.58 601.25,140.58 601.59,141.57 601.49,142.57 601.35,143.56 601.55,144.56 601.53,145.55 601.46,146.55 601.52,147.54 601.50,148.54 601.34,149.53 601.36,150.53 601.44,151.52 601.46,152.52 601.34,153.51 601.62,154.51 601.46,155.50 603.16,155.50 603.16,154.51 603.01,153.51 603.14,152.52 603.24,151.52 603.31,150.53 603.19,149.53 603.17,148.54 603.08,147.54 603.19,146.55 603.11,145.55 603.10,144.56 603.20,143.56 603.34,142.57 603.15,141.57 603.25,140.58 603.34,139.58 603.17,138.59 603.08,137.59 602.97,136.60" fill="#55a9de" opacity="1.0"/>
<polygon points="610.35,136.60 609.95,137.59 610.13,138.59 610.35,139.58 610.38,140.58 610.08,141.57 610.35,142.57 609.93,143.56 609.90,144.56 610.34,145.55 610.12,146.55 610.08,147.54 610.27,148.54 610.14,149.53 610.31,150.53 610.26,151.52 610.16,152.52 610.07,153.51 610.08,154.51 609.96,155.50 612.89,155.50 612.55,154.51 612.75,153.51 612.69,152.52 612.77,151.52 612.63,150.53 613.04,149.53 612.82,148.54 613.16,147.54 612.59,146.55 612.86,145.55 612.76,144.56 612.70,143.56 612.62,142.57 613.06,141.57 612.57,140.58 613.10,139.58 612.94,138.59 613.05,137.59 612.69,136.60" fill="#55a9de" opacity="1.0"/>
<line x1="498.6" y1="136.60" x2="498.6" y2="155.50" stroke="#fba274" stroke-width="1.0" opacity="0.8"/>
<polygon points="516.10,136.60 516.33,137.59 516.19,138.59 516.37,139.58 516.30,140.58 516.15,141.57 516.35,142.57 516.21,143.56 516.23,144.56 516.32,145.55 516.22,146.55 516.36,147.54 516.21,148.54 516.40,149.53 516.41,150.53 516.21,151.52 516.19,152.52 516.34,153.51 516.26,154.51 516.39,155.50 517.84,155.50 517.75,154.51 517.71,153.51 517.60,152.52 517.81,151.52 517.82,150.53 517.64,149.53 517.78,148.54 517.70,147.54 517.80,146.55 517.68,145.55 517.70,144.56 517.59,143.56 517.79,142.57 517.72,141.57 517.87,140.58 517.61,139.58 517.66,138.59 517.67,137.59 517.64,136.60" fill="#f97e45" opacity="0.92"/>
<polygon points="574.22,136.60 574.43,137.59 574.61,138.59 574.44,139.58 574.42,140.58 574.46,141.57 574.53,142.57 574.40,143.56 574.54,144.56 574.58,145.55 574.26,146.55 574.25,147.54 574.26,148.54 574.57,149.53 574.23,150.53 574.55,151.52 574.23,152.52 574.41,153.51 574.69,154.51 574.63,155.50 576.38,155.50 576.70,154.51 576.59,153.51 576.64,152.52 576.54,151.52 576.64,150.53 576.58,149.53 576.35,148.54 576.70,147.54 576.41,146.55 576.68,145.55 576.58,144.56 576.33,143.56 576.67,142.57 576.71,141.57 576.55,140.58 576.74,139.58 576.51,138.59 576.53,137.59 576.59,136.60" fill="#f97e45" opacity="0.92"/>
<polygon points="616.95,136.60 616.74,137.59 616.91,138.59 616.93,139.58 617.27,140.58 617.06,141.57 616.77,142.57 617.28,143.56 617.27,144.56 616.86,145.55 617.07,146.55 617.03,147.54 617.10,148.54 617.24,149.53 617.31,150.53 616.77,151.52 617.07,152.52 617.09,153.51 616.91,154.51 616.92,155.50 619.88,155.50 619.93,154.51 619.64,153.51 619.69,152.52 619.63,151.52 619.78,150.53 619.56,149.53 619.67,148.54 619.74,147.54 619.67,146.55 619.47,145.55 619.60,144.56 619.94,143.56 619.63,142.57 619.70,141.57 619.78,140.58 619.60,139.58 619.60,138.59 620.05,137.59 619.76,136.60" fill="#f97e45" opacity="0.92"/>
<line x1="444.9" y1="155.50" x2="444.9" y2="174.40" stroke="#93d2bd" stroke-width="1.2"/>
<polygon points="454.70,155.50 454.59,156.49 454.58,157.49 454.46,158.48 454.64,159.48 454.72,160.47 454.63,161.47 454.74,162.46 454.70,163.46 454.66,164.45 454.53,165.45 454.71,166.44 454.74,167.44 454.47,168.43 454.69,169.43 454.57,170.42 454.52,171.42 454.66,172.41 454.46,173.41 454.45,174.40 456.11,174.40 456.06,173.41 455.89,172.41 456.13,171.42 456.05,170.42 456.15,169.43 455.87,168.43 455.91,167.44 455.89,166.44 455.91,165.45 456.06,164.45 456.00,163.46 456.02,162.46 455.90,161.47 455.86,160.47 455.85,159.48 455.98,158.48 456.12,157.49 456.14,156.49 456.03,155.50" fill="#0a9670" opacity="1.0"/>
<polygon points="558.30,155.50 558.44,156.49 558.43,157.49 558.61,158.48 558.57,159.48 558.55,160.47 558.34,161.47 558.34,162.46 558.26,163.46 558.19,164.45 558.52,165.45 558.49,166.44 558.57,167.44 558.61,168.43 558.62,169.43 558.29,170.42 558.53,171.42 558.62,172.41 558.39,173.41 558.45,174.40 560.62,174.40 560.78,173.41 560.39,172.41 560.60,171.42 560.52,170.42 560.61,169.43 560.85,168.43 560.41,167.44 560.40,166.44 560.56,165.45 560.58,164.45 560.62,163.46 560.67,162.46 560.36,161.47 560.84,160.47 560.42,159.48 560.51,158.48 560.42,157.49 560.51,156.49 560.46,155.50" fill="#0a9670" opacity="1.0"/>
<polygon points="585.01,155.50 585.12,156.49 585.45,157.49 585.49,158.48 585.31,159.48 585.16,160.47 585.34,161.47 585.15,162.46 585.10,163.46 585.06,164.45 585.13,165.45 585.28,166.44 585.28,167.44 585.31,168.43 584.98,169.43 585.02,170.42 585.04,171.42 585.17,172.41 585.34,173.41 585.06,174.40 588.00,174.40 587.56,173.41 587.68,172.41 587.79,171.42 587.83,170.42 587.76,169.43 587.73,168.43 587.92,167.44 587.52,166.44 587.50,165.45 587.92,164.45 587.89,163.46 587.72,162.46 587.49,161.47 588.01,160.47 588.02,159.48 587.48,158.48 587.59,157.49 587.98,156.49 587.54,155.50" fill="#0a9670" opacity="1.0"/>
<line x1="452.9" y1="155.50" x2="452.9" y2="174.40" stroke="#ec6b6b" stroke-width="1.6" opacity="0.8"/>
<polygon points="467.98,155.50 468.20,156.49 467.91,157.49 468.20,158.48 468.05,159.48 467.90,160.47 467.92,161.47 468.05,162.46 467.93,163.46 467.93,164.45 467.95,165.45 468.05,166.44 467.86,167.44 468.05,168.43 468.08,169.43 467.94,170.42 467.91,171.42 467.87,172.41 468.06,173.41 468.20,174.40 469.59,174.40 469.67,173.41 469.71,172.41 469.66,171.42 469.85,170.42 469.82,169.43 469.86,168.43 469.92,167.44 469.90,166.44 469.90,165.45 469.60,164.45 469.71,163.46 469.70,162.46 469.76,161.47 469.74,160.47 469.76,159.48 469.60,158.48 469.59,157.49 469.74,156.49 469.88,155.50" fill="#e01418" opacity="0.92"/>
<polygon points="542.39,155.50 542.40,156.49 542.46,157.49 542.22,158.48 542.61,159.48 542.41,160.47 542.52,161.47 542.51,162.46 542.57,163.46 542.58,164.45 542.30,165.45 542.21,166.44 542.44,167.44 542.27,168.43 542.19,169.43 542.26,170.42 542.61,171.42 542.34,172.41 542.50,173.41 542.48,174.40 544.72,174.40 544.87,173.41 544.65,172.41 544.80,171.42 544.90,170.42 544.50,169.43 544.46,168.43 544.46,167.44 544.77,166.44 544.43,165.45 544.60,164.45 544.39,163.46 544.63,162.46 544.57,161.47 544.75,160.47 544.41,159.48 544.70,158.48 544.42,157.49 544.80,156.49 544.51,155.50" fill="#e01418" opacity="0.92"/>
<polygon points="616.75,155.50 617.18,156.49 616.68,157.49 616.85,158.48 617.26,159.48 617.11,160.47 617.17,161.47 617.22,162.46 617.17,163.46 617.01,164.45 617.17,165.45 617.20,166.44 617.26,167.44 617.25,168.43 617.26,169.43 616.78,170.42 616.77,171.42 616.92,172.41 616.95,173.41 617.07,174.40 619.99,174.40 620.12,173.41 619.67,172.41 619.65,171.42 620.08,170.42 620.04,169.43 619.59,168.43 619.87,167.44 619.72,166.44 620.04,165.45 619.81,164.45 620.05,163.46 620.01,162.46 620.14,161.47 619.61,160.47 619.97,159.48 619.62,158.48 620.00,157.49 620.04,156.49 619.93,155.50" fill="#e01418" opacity="0.92"/>
<line x1="444.9" y1="174.40" x2="444.9" y2="193.30" stroke="#93d2bd" stroke-width="1.2"/>
<polygon points="454.57,174.40 454.69,175.39 454.74,176.39 454.57,177.38 454.65,178.38 454.55,179.37 454.71,180.37 454.44,181.36 454.44,182.36 454.70,183.35 454.63,184.35 454.55,185.34 454.55,186.34 454.64,187.33 454.47,188.33 454.66,189.32 454.65,190.32 454.48,191.31 454.45,192.31 454.50,193.30 455.93,193.30 456.10,192.31 456.06,191.31 456.10,190.32 455.98,189.32 455.93,188.33 455.93,187.33 456.11,186.34 455.91,185.34 455.99,184.35 455.97,183.35 455.87,182.36 456.00,181.36 456.09,180.37 456.03,179.37 456.11,178.38 455.87,177.38 456.11,176.39 456.06,175.39 456.09,174.40" fill="#0a9670" opacity="1.0"/>
<polygon points="558.63,174.40 558.26,175.39 558.46,176.39 558.35,177.38 558.63,178.38 558.65,179.37 558.57,180.37 558.41,181.36 558.24,182.36 558.38,183.35 558.27,184.35 558.20,185.34 558.58,186.34 558.34,187.33 558.60,188.33 558.18,189.32 558.37,190.32 558.33,191.31 558.47,192.31 558.41,193.30 560.69,193.30 560.54,192.31 560.68,191.31 560.83,190.32 560.66,189.32 560.68,188.33 560.82,187.33 560.61,186.34 560.63,185.34 560.53,184.35 560.76,183.35 560.83,182.36 560.35,181.36 560.43,180.37 560.44,179.37 560.60,178.38 560.60,177.38 560.80,176.39 560.80,175.39 560.53,174.40" fill="#0a9670" opacity="1.0"/>
<polygon points="585.48,174.40 585.17,175.39 584.99,176.39 585.36,177.38 585.22,178.38 585.48,179.37 585.39,180.37 585.15,181.36 585.51,182.36 585.04,183.35 585.29,184.35 585.19,185.34 585.33,186.34 585.40,187.33 585.28,188.33 585.53,189.32 585.43,190.32 585.18,191.31 585.37,192.31 585.12,193.30 587.55,193.30 587.86,192.31 588.02,191.31 587.85,190.32 587.84,189.32 587.70,188.33 587.63,187.33 587.62,186.34 587.89,185.34 587.49,184.35 587.80,183.35 587.98,182.36 587.54,181.36 587.48,180.37 587.88,179.37 587.89,178.38 587.78,177.38 587.94,176.39 588.02,175.39 587.75,174.40" fill="#0a9670" opacity="1.0"/>
<line x1="451.4" y1="174.40" x2="451.4" y2="193.30" stroke="#86bde3" stroke-width="1.1" opacity="0.8"/>
<polygon points="544.28,174.40 544.37,175.39 544.11,176.39 544.40,177.38 544.34,178.38 544.18,179.37 544.17,180.37 544.43,181.36 544.13,182.36 544.42,183.35 544.18,184.35 544.10,185.34 544.21,186.34 544.43,187.33 544.13,188.33 544.23,189.32 544.30,190.32 544.18,191.31 544.35,192.31 544.27,193.30 546.02,193.30 545.94,192.31 545.81,191.31 546.06,190.32 546.08,189.32 546.11,188.33 545.86,187.33 545.91,186.34 545.86,185.34 545.93,184.35 545.83,183.35 545.88,182.36 546.13,181.36 545.90,180.37 545.77,179.37 545.82,178.38 545.82,177.38 545.96,176.39 545.89,175.39 546.08,174.40" fill="#55a9de" opacity="0.92"/>
<polygon points="608.25,174.40 608.10,175.39 608.16,176.39 608.20,177.38 608.26,178.38 608.28,179.37 608.09,180.37 608.06,181.36 607.98,182.36 608.25,183.35 608.12,184.35 608.00,185.34 608.21,186.34 608.20,187.33 608.26,188.33 608.32,189.32 608.09,190.32 608.27,191.31 608.03,192.31 608.16,193.30 609.86,193.30 610.00,192.31 609.79,191.31 609.81,190.32 609.95,189.32 609.81,188.33 609.93,187.33 610.03,186.34 609.77,185.34 609.97,184.35 609.92,183.35 609.87,182.36 609.75,181.36 610.02,180.37 609.88,179.37 609.67,178.38 609.76,177.38 609.77,176.39 610.01,175.39 609.76,174.40" fill="#55a9de" opacity="0.92"/>
<polygon points="617.16,174.40 616.82,175.39 616.78,176.39 617.05,177.38 617.15,178.38 616.99,179.37 616.91,180.37 617.23,181.36 616.83,182.36 617.21,183.35 617.30,184.35 617.20,185.34 617.14,186.34 616.82,187.33 617.18,188.33 616.91,189.32 617.11,190.32 616.91,191.31 616.88,192.31 617.16,193.30 620.05,193.30 619.50,192.31 619.57,191.31 619.95,190.32 619.48,189.32 619.82,188.33 619.88,187.33 619.99,186.34 619.95,185.34 620.00,184.35 619.75,183.35 619.86,182.36 619.96,181.36 619.96,180.37 619.80,179.37 619.80,178.38 619.97,177.38 619.70,176.39 619.65,175.39 620.00,174.40" fill="#55a9de" opacity="0.92"/>
<line x1="444.9" y1="193.30" x2="444.9" y2="212.20" stroke="#93d2bd" stroke-width="1.2"/>
<polygon points="454.70,193.30 454.66,194.29 454.71,195.29 454.44,196.28 454.48,197.28 454.46,198.27 454.62,199.27 454.45,200.26 454.47,201.26 454.64,202.25 454.55,203.25 454.51,204.24 454.51,205.24 454.70,206.23 454.45,207.23 454.45,208.22 454.58,209.22 454.64,210.21 454.63,211.21 454.60,212.20 456.03,212.20 455.97,211.21 456.07,210.21 455.86,209.22 456.00,208.22 456.09,207.23 456.01,206.23 456.11,205.24 456.09,204.24 456.02,203.25 455.95,202.25 455.91,201.26 456.11,200.26 456.10,199.27 455.98,198.27 455.93,197.28 456.04,196.28 455.94,195.29 455.86,194.29 455.95,193.30" fill="#0a9670" opacity="1.0"/>
<polygon points="558.26,193.30 558.65,194.29 558.63,195.29 558.65,196.28 558.39,197.28 558.38,198.27 558.51,199.27 558.32,200.26 558.35,201.26 558.24,202.25 558.41,203.25 558.25,204.24 558.25,205.24 558.43,206.23 558.64,207.23 558.63,208.22 558.51,209.22 558.18,210.21 558.15,211.21 558.51,212.20 560.67,212.20 560.78,211.21 560.45,210.21 560.71,209.22 560.81,208.22 560.73,207.23 560.70,206.23 560.48,205.24 560.70,204.24 560.57,203.25 560.72,202.25 560.49,201.26 560.44,200.26 560.58,199.27 560.69,198.27 560.41,197.28 560.38,196.28 560.51,195.29 560.75,194.29 560.79,193.30" fill="#0a9670" opacity="1.0"/>
<polygon points="585.11,193.30 585.06,194.29 585.53,195.29 584.99,196.28 585.17,197.28 585.43,198.27 585.02,199.27 585.05,200.26 585.23,201.26 585.49,202.25 585.24,203.25 585.04,204.24 585.29,205.24 585.08,206.23 584.97,207.23 585.37,208.22 585.53,209.22 585.38,210.21 585.43,211.21 585.04,212.20 587.47,212.20 587.95,211.21 587.68,210.21 587.71,209.22 588.01,208.22 587.99,207.23 587.61,206.23 587.75,205.24 587.52,204.24 587.94,203.25 587.92,202.25 588.03,201.26 587.91,200.26 587.52,199.27 587.72,198.27 587.98,197.28 587.56,196.28 587.64,195.29 587.83,194.29 587.67,193.30" fill="#0a9670" opacity="1.0"/>
<line x1="565.3" y1="193.30" x2="565.3" y2="212.20" stroke="#b763e6" stroke-width="1.2" opacity="0.8"/>
<polygon points="577.96,193.30 578.01,194.29 578.15,195.29 578.04,196.28 578.17,197.28 577.92,198.27 578.09,199.27 578.05,200.26 577.96,201.26 578.17,202.25 577.93,203.25 577.94,204.24 578.04,205.24 578.09,206.23 578.03,207.23 578.12,208.22 578.04,209.22 578.10,210.21 577.97,211.21 578.11,212.20 579.34,212.20 579.39,211.21 579.41,210.21 579.32,209.22 579.22,208.22 579.22,207.23 579.41,206.23 579.38,205.24 579.26,204.24 579.38,203.25 579.31,202.25 579.27,201.26 579.39,200.26 579.47,199.27 579.30,198.27 579.36,197.28 579.21,196.28 579.44,195.29 579.20,194.29 579.38,193.30" fill="#8f0ad0" opacity="0.92"/>
<polygon points="587.59,193.30 587.79,194.29 587.64,195.29 587.63,196.28 587.88,197.28 587.81,198.27 587.55,199.27 587.96,200.26 587.55,201.26 587.64,202.25 587.63,203.25 587.94,204.24 587.93,205.24 587.60,206.23 587.86,207.23 587.96,208.22 587.61,209.22 587.60,210.21 587.58,211.21 587.92,212.20 589.83,212.20 589.78,211.21 589.66,210.21 589.78,209.22 589.74,208.22 589.48,207.23 589.44,206.23 589.55,205.24 589.71,204.24 589.73,203.25 589.84,202.25 589.45,201.26 589.78,200.26 589.47,199.27 589.76,198.27 589.79,197.28 589.60,196.28 589.86,195.29 589.46,194.29 589.83,193.30" fill="#8f0ad0" opacity="0.92"/>
<polygon points="616.74,193.30 617.08,194.29 617.05,195.29 617.11,196.28 616.79,197.28 617.08,198.27 616.99,199.27 617.20,200.26 617.26,201.26 617.02,202.25 617.14,203.25 617.01,204.24 617.35,205.24 616.96,206.23 617.19,207.23 617.27,208.22 616.97,209.22 617.21,210.21 617.12,211.21 617.22,212.20 619.44,212.20 620.05,211.21 619.53,210.21 619.63,209.22 619.50,208.22 619.97,207.23 619.50,206.23 619.78,205.24 619.51,204.24 619.57,203.25 619.51,202.25 619.94,201.26 619.45,200.26 619.44,199.27 619.62,198.27 619.47,197.28 619.94,196.28 619.82,195.29 619.95,194.29 619.97,193.30" fill="#8f0ad0" opacity="0.92"/>
<line x1="444.9" y1="212.20" x2="444.9" y2="231.10" stroke="#93d2bd" stroke-width="1.2"/>
<polygon points="454.46,212.20 454.66,213.19 454.61,214.19 454.57,215.18 454.65,216.18 454.68,217.17 454.73,218.17 454.67,219.16 454.66,220.16 454.58,221.15 454.50,222.15 454.58,223.14 454.52,224.14 454.55,225.13 454.47,226.13 454.76,227.12 454.74,228.12 454.71,229.11 454.68,230.11 454.52,231.10 455.97,231.10 455.93,230.11 456.16,229.11 456.08,228.12 456.05,227.12 455.98,226.13 455.94,225.13 455.94,224.14 456.07,223.14 456.14,222.15 456.12,221.15 456.11,220.16 455.85,219.16 456.11,218.17 456.10,217.17 456.13,216.18 456.04,215.18 455.99,214.19 456.03,213.19 455.88,212.20" fill="#0a9670" opacity="1.0"/>
<polygon points="558.16,212.20 558.60,213.19 558.31,214.19 558.54,215.18 558.55,216.18 558.20,217.17 558.31,218.17 558.33,219.16 558.64,220.16 558.42,221.15 558.42,222.15 558.35,223.14 558.50,224.14 558.19,225.13 558.29,226.13 558.15,227.12 558.51,228.12 558.24,229.11 558.49,230.11 558.52,231.10 560.73,231.10 560.70,230.11 560.57,229.11 560.85,228.12 560.48,227.12 560.81,226.13 560.45,225.13 560.84,224.14 560.81,223.14 560.82,222.15 560.68,221.15 560.43,220.16 560.62,219.16 560.66,218.17 560.77,217.17 560.62,216.18 560.80,215.18 560.74,214.19 560.81,213.19 560.46,212.20" fill="#0a9670" opacity="1.0"/>
<polygon points="585.10,212.20 584.98,213.19 585.08,214.19 585.52,215.18 585.30,216.18 585.31,217.17 585.14,218.17 585.00,219.16 585.17,220.16 585.03,221.15 585.52,222.15 585.12,223.14 585.06,224.14 585.14,225.13 585.36,226.13 585.38,227.12 585.50,228.12 585.44,229.11 585.44,230.11 585.45,231.10 587.92,231.10 587.59,230.11 587.48,229.11 587.66,228.12 587.52,227.12 587.72,226.13 587.70,225.13 587.52,224.14 587.91,223.14 587.86,222.15 587.75,221.15 587.54,220.16 587.47,219.16 587.50,218.17 587.86,217.17 587.84,216.18 587.83,215.18 587.61,214.19 587.86,213.19 587.61,212.20" fill="#0a9670" opacity="1.0"/>
<line x1="498.6" y1="212.20" x2="498.6" y2="231.10" stroke="#fba274" stroke-width="1.0" opacity="0.8"/>
<polygon points="516.31,212.20 516.08,213.19 516.39,214.19 516.31,215.18 516.31,216.18 516.13,217.17 516.42,218.17 516.30,219.16 516.15,220.16 516.08,221.15 516.12,222.15 516.20,223.14 516.12,224.14 516.16,225.13 516.26,226.13 516.16,227.12 516.18,228.12 516.34,229.11 516.14,230.11 516.21,231.10 517.70,231.10 517.65,230.11 517.65,229.11 517.71,228.12 517.85,227.12 517.62,226.13 517.70,225.13 517.85,224.14 517.83,223.14 517.91,222.15 517.87,221.15 517.60,220.16 517.77,219.16 517.71,218.17 517.61,217.17 517.64,216.18 517.78,215.18 517.63,214.19 517.64,213.19 517.67,212.20" fill="#f97e45" opacity="0.92"/>
<polygon points="574.52,212.20 574.63,213.19 574.53,214.19 574.32,215.18 574.42,216.18 574.43,217.17 574.25,218.17 574.44,219.16 574.32,220.16 574.27,221.15 574.38,222.15 574.66,223.14 574.24,224.14 574.57,225.13 574.63,226.13 574.62,227.12 574.67,228.12 574.32,229.11 574.63,230.11 574.25,231.10 576.44,231.10 576.41,230.11 576.39,229.11 576.56,228.12 576.36,227.12 576.77,226.13 576.58,225.13 576.42,224.14 576.58,223.14 576.54,222.15 576.34,221.15 576.52,220.16 576.39,219.16 576.36,218.17 576.65,217.17 576.36,216.18 576.32,215.18 576.71,214.19 576.33,213.19 576.54,212.20" fill="#f97e45" opacity="0.92"/>
<polygon points="617.31,212.20 617.19,213.19 617.02,214.19 616.87,215.18 616.96,216.18 617.35,217.17 616.85,218.17 617.15,219.16 616.75,220.16 617.20,221.15 616.88,222.15 617.12,223.14 616.83,224.14 617.33,225.13 617.27,226.13 617.30,227.12 616.88,228.12 617.30,229.11 616.87,230.11 617.01,231.10 619.53,231.10 619.46,230.11 619.49,229.11 619.81,228.12 619.55,227.12 619.67,226.13 619.90,225.13 619.94,224.14 619.84,223.14 619.75,222.15 619.77,221.15 619.73,220.16 619.76,219.16 619.45,218.17 619.74,217.17 619.51,216.18 619.85,215.18 619.64,214.19 619.48,213.19 619.73,212.20" fill="#f97e45" opacity="0.92"/>
<line x1="444.9" y1="231.10" x2="444.9" y2="250.00" stroke="#d7a2f1" stroke-width="1.4"/>
<polygon points="457.24,231.10 457.38,232.09 457.32,233.09 457.18,234.08 457.26,235.08 457.35,236.07 457.35,237.07 457.39,238.06 457.47,239.06 457.52,240.05 457.26,241.05 457.29,242.04 457.30,243.04 457.18,244.03 457.23,245.03 457.18,246.02 457.27,247.02 457.37,248.01 457.22,249.01 457.22,250.00 459.01,250.00 458.76,249.01 458.92,248.01 458.83,247.02 458.89,246.02 458.96,245.03 458.81,244.03 458.91,243.04 458.82,242.04 459.01,241.05 458.83,240.05 458.75,239.06 458.75,238.06 459.02,237.07 459.01,236.07 458.84,235.08 459.01,234.08 458.91,233.09 459.00,232.09 458.94,231.10" fill="#8f0ad0" opacity="1.0"/>
<polygon points="467.80,231.10 467.96,232.09 468.12,233.09 467.83,234.08 467.99,235.08 467.91,236.07 468.02,237.07 468.15,238.06 468.14,239.06 467.75,240.05 467.78,241.05 467.86,242.04 468.15,243.04 467.91,244.03 468.10,245.03 468.02,246.02 467.78,247.02 468.02,248.01 468.08,249.01 468.15,250.00 469.72,250.00 470.02,249.01 469.89,248.01 469.74,247.02 469.86,246.02 469.98,245.03 469.86,244.03 470.01,243.04 469.76,242.04 469.64,241.05 470.03,240.05 469.81,239.06 469.75,238.06 470.01,237.07 470.02,236.07 469.83,235.08 469.70,234.08 469.66,233.09 469.89,232.09 469.69,231.10" fill="#8f0ad0" opacity="1.0"/>
<polygon points="496.91,231.10 497.19,232.09 497.26,233.09 497.00,234.08 497.16,235.08 496.90,236.07 497.22,237.07 497.25,238.06 496.87,239.06 497.25,240.05 497.24,241.05 497.41,242.04 497.00,243.04 497.41,244.03 497.10,245.03 497.38,246.02 497.29,247.02 497.24,248.01 496.94,249.01 496.99,250.00 499.52,250.00 499.49,249.01 499.80,248.01 499.57,247.02 499.50,246.02 499.92,245.03 499.48,244.03 499.61,243.04 499.81,242.04 499.47,241.05 499.77,240.05 499.64,239.06 499.82,238.06 499.63,237.07 499.79,236.07 499.75,235.08 499.57,234.08 499.51,233.09 499.47,232.09 499.88,231.10" fill="#8f0ad0" opacity="1.0"/>
<line x1="452.9" y1="231.10" x2="452.9" y2="250.00" stroke="#ec6b6b" stroke-width="1.6" opacity="0.8"/>
<polygon points="467.87,231.10 468.01,232.09 467.88,233.09 468.22,234.08 467.99,235.08 468.03,236.07 468.04,237.07 468.12,238.06 468.00,239.06 468.15,240.05 468.11,241.05 468.13,242.04 467.93,243.04 467.97,244.03 468.18,245.03 468.19,246.02 468.08,247.02 467.86,248.01 468.14,249.01 467.88,250.00 469.56,250.00 469.66,249.01 469.76,248.01 469.63,247.02 469.90,246.02 469.79,245.03 469.65,244.03 469.85,243.04 469.93,242.04 469.80,241.05 469.88,240.05 469.93,239.06 469.62,238.06 469.56,237.07 469.62,236.07 469.83,235.08 469.78,234.08 469.78,233.09 469.72,232.09 469.61,231.10" fill="#e01418" opacity="0.92"/>
<polygon points="542.18,231.10 542.09,232.09 542.23,233.09 542.61,234.08 542.15,235.08 542.60,236.07 542.26,237.07 542.25,238.06 542.34,239.06 542.11,240.05 542.17,241.05 542.42,242.04 542.22,243.04 542.47,244.03 542.35,245.03 542.58,246.02 542.11,247.02 542.45,248.01 542.47,249.01 542.51,250.00 544.81,250.00 544.51,249.01 544.59,248.01 544.47,247.02 544.68,246.02 544.48,245.03 544.57,244.03 544.80,243.04 544.75,242.04 544.43,241.05 544.43,240.05 544.52,239.06 544.61,238.06 544.66,237.07 544.46,236.07 544.88,235.08 544.39,234.08 544.76,233.09 544.51,232.09 544.75,231.10" fill="#e01418" opacity="0.92"/>
<polygon points="616.68,231.10 616.74,232.09 617.15,233.09 616.77,234.08 617.06,235.08 616.71,236.07 617.01,237.07 617.04,238.06 616.79,239.06 616.97,240.05 616.64,241.05 616.76,242.04 617.04,243.04 617.03,244.03 616.75,245.03 617.06,246.02 616.72,247.02 617.13,248.01 617.09,249.01 617.15,250.00 619.72,250.00 620.16,249.01 620.07,248.01 619.67,247.02 619.69,246.02 619.72,245.03 620.12,244.03 619.98,243.04 619.71,242.04 620.00,241.05 620.00,240.05 619.80,239.06 619.68,238.06 619.59,237.07 619.64,236.07 619.89,235.08 619.58,234.08 620.04,233.09 619.99,232.09 619.91,231.10" fill="#e01418" opacity="0.92"/>
<line x1="444.9" y1="250.00" x2="444.9" y2="268.90" stroke="#d7a2f1" stroke-width="1.4"/>
<polygon points="457.29,250.00 457.20,250.99 457.21,251.99 457.35,252.98 457.50,253.98 457.34,254.97 457.22,255.97 457.36,256.96 457.42,257.96 457.45,258.95 457.20,259.95 457.34,260.94 457.41,261.94 457.29,262.93 457.42,263.93 457.31,264.92 457.50,265.92 457.39,266.91 457.33,267.91 457.27,268.90 458.69,268.90 458.90,267.91 458.71,266.91 459.00,265.92 458.83,264.92 458.94,263.93 458.84,262.93 458.75,261.94 458.76,260.94 458.81,259.95 458.71,258.95 458.86,257.96 458.80,256.96 458.85,255.97 458.75,254.97 458.98,253.98 458.73,252.98 458.69,251.99 458.89,250.99 458.93,250.00" fill="#8f0ad0" opacity="1.0"/>
<polygon points="468.16,250.00 467.79,250.99 468.00,251.99 467.76,252.98 468.07,253.98 467.77,254.97 467.77,255.97 467.75,256.96 468.07,257.96 467.78,258.95 467.80,259.95 468.10,260.94 467.81,261.94 467.92,262.93 467.78,263.93 468.16,264.92 467.84,265.92 468.12,266.91 467.94,267.91 468.00,268.90 469.76,268.90 470.05,267.91 470.03,266.91 469.96,265.92 469.68,264.92 469.74,263.93 469.78,262.93 469.97,261.94 469.70,260.94 469.86,259.95 469.66,258.95 469.69,257.96 469.76,256.96 470.05,255.97 469.80,254.97 469.82,253.98 469.96,252.98 469.76,251.99 469.84,250.99 470.03,250.00" fill="#8f0ad0" opacity="1.0"/>
<polygon points="497.13,250.00 497.28,250.99 496.97,251.99 496.92,252.98 497.06,253.98 497.01,254.97 497.43,255.97 497.35,256.96 496.96,257.96 497.06,258.95 497.10,259.95 497.36,260.94 496.87,261.94 497.21,262.93 497.41,263.93 497.35,264.92 497.01,265.92 497.08,266.91 497.08,267.91 496.99,268.90 499.89,268.90 499.43,267.91 499.57,266.91 499.57,265.92 499.83,264.92 499.55,263.93 499.88,262.93 499.80,261.94 499.69,260.94 499.84,259.95 499.47,258.95 499.79,257.96 499.55,256.96 499.45,255.97 499.63,254.97 499.50,253.98 499.83,252.98 499.91,251.99 499.44,250.99 499.77,250.00" fill="#8f0ad0" opacity="1.0"/>
<line x1="451.4" y1="250.00" x2="451.4" y2="268.90" stroke="#86bde3" stroke-width="1.1" opacity="0.8"/>
<polygon points="544.21,250.00 544.40,250.99 544.15,251.99 544.37,252.98 544.34,253.98 544.37,254.97 544.31,255.97 544.38,256.96 544.27,257.96 544.38,258.95 544.38,259.95 544.40,260.94 544.42,261.94 544.32,262.93 544.07,263.93 544.27,264.92 544.19,265.92 544.36,266.91 544.14,267.91 544.15,268.90 545.79,268.90 545.89,267.91 546.10,266.91 546.06,265.92 545.93,264.92 546.10,263.93 546.01,262.93 546.05,261.94 545.81,260.94 546.09,259.95 545.89,258.95 545.89,257.96 545.81,256.96 545.90,255.97 545.85,254.97 546.05,253.98 546.14,252.98 546.11,251.99 546.05,250.99 546.00,250.00" fill="#55a9de" opacity="0.92"/>
<polygon points="608.08,250.00 608.27,250.99 607.98,251.99 608.24,252.98 608.14,253.98 608.27,254.97 608.08,255.97 608.30,256.96 608.31,257.96 608.08,258.95 608.18,259.95 608.18,260.94 608.16,261.94 608.12,262.93 608.21,263.93 608.10,264.92 608.33,265.92 608.00,266.91 607.97,267.91 608.12,268.90 609.94,268.90 609.89,267.91 610.01,266.91 609.93,265.92 609.80,264.92 609.74,263.93 610.00,262.93 609.84,261.94 609.98,260.94 609.70,259.95 610.00,258.95 609.94,257.96 609.84,256.96 609.90,255.97 610.03,254.97 609.81,253.98 609.73,252.98 609.68,251.99 609.74,250.99 609.66,250.00" fill="#55a9de" opacity="0.92"/>
<polygon points="617.01,250.00 617.06,250.99 617.23,251.99 616.88,252.98 617.24,253.98 617.29,254.97 617.01,255.97 617.18,256.96 616.86,257.96 616.94,258.95 616.85,259.95 617.05,260.94 616.83,261.94 617.36,262.93 617.23,263.93 617.31,264.92 617.21,265.92 616.96,266.91 616.87,267.91 617.05,268.90 620.00,268.90 619.45,267.91 620.01,266.91 619.98,265.92 619.78,264.92 619.55,263.93 619.79,262.93 620.03,261.94 619.85,260.94 619.78,259.95 619.89,258.95 619.63,257.96 620.02,256.96 619.68,255.97 620.06,254.97 619.57,253.98 619.90,252.98 619.66,251.99 619.95,250.99 619.50,250.00" fill="#55a9de" opacity="0.92"/>
<line x1="444.9" y1="268.90" x2="444.9" y2="287.80" stroke="#d7a2f1" stroke-width="1.4"/>
<polygon points="457.49,268.90 457.35,269.89 457.37,270.89 457.40,271.88 457.32,272.88 457.27,273.87 457.32,274.87 457.34,275.86 457.18,276.86 457.43,277.85 457.26,278.85 457.36,279.84 457.39,280.84 457.25,281.83 457.43,282.83 457.42,283.82 457.27,284.82 457.50,285.81 457.50,286.81 457.21,287.80 458.70,287.80 458.83,286.81 458.70,285.81 458.97,284.82 458.92,283.82 458.94,282.83 458.88,281.83 458.99,280.84 458.74,279.84 458.77,278.85 458.94,277.85 458.79,276.86 458.71,275.86 458.85,274.87 458.77,273.87 458.89,272.88 458.96,271.88 458.73,270.89 459.00,269.89 459.01,268.90" fill="#8f0ad0" opacity="1.0"/>
<polygon points="468.08,268.90 467.79,269.89 468.01,270.89 467.88,271.88 467.84,272.88 467.80,273.87 468.00,274.87 467.80,275.86 467.77,276.86 467.87,277.85 467.81,278.85 467.92,279.84 467.94,280.84 467.94,281.83 467.99,282.83 467.80,283.82 468.04,284.82 467.91,285.81 467.92,286.81 468.03,287.80 469.80,287.80 469.79,286.81 469.79,285.81 470.05,284.82 469.66,283.82 469.69,282.83 469.72,281.83 470.05,280.84 470.06,279.84 469.84,278.85 469.85,277.85 469.72,276.86 469.73,275.86 469.76,274.87 469.81,273.87 469.72,272.88 469.97,271.88 470.07,270.89 469.83,269.89 469.93,268.90" fill="#8f0ad0" opacity="1.0"/>
<polygon points="496.95,268.90 497.19,269.89 497.35,270.89 497.07,271.88 497.39,272.88 497.11,273.87 497.18,274.87 497.29,275.86 496.95,276.86 497.35,277.85 497.20,278.85 497.06,279.84 497.18,280.84 496.97,281.83 497.38,282.83 496.88,283.82 497.14,284.82 497.07,285.81 497.06,286.81 497.40,287.80 499.73,287.80 499.67,286.81 499.88,285.81 499.65,284.82 499.55,283.82 499.82,282.83 499.43,281.83 499.59,280.84 499.91,279.84 499.75,278.85 499.82,277.85 499.57,276.86 499.91,275.86 499.74,274.87 499.53,273.87 499.59,272.88 499.72,271.88 499.78,270.89 499.37,269.89 499.86,268.90" fill="#8f0ad0" opacity="1.0"/>
<line x1="477.1" y1="268.90" x2="477.1" y2="287.80" stroke="#57b99a" stroke-width="1.2" opacity="0.8"/>
<polygon points="486.74,268.90 486.71,269.89 486.85,270.89 486.71,271.88 486.70,272.88 486.76,273.87 486.69,274.87 486.63,275.86 486.58,276.86 486.60,277.85 486.63,278.85 486.60,279.84 486.83,280.84 486.89,281.83 486.77,282.83 486.61,283.82 486.73,284.82 486.84,285.81 486.71,286.81 486.88,287.80 488.34,287.80 488.11,286.81 488.37,285.81 488.14,284.82 488.40,283.82 488.40,282.83 488.40,281.83 488.33,280.84 488.17,279.84 488.16,278.85 488.36,277.85 488.14,276.86 488.32,275.86 488.36,274.87 488.17,273.87 488.39,272.88 488.21,271.88 488.17,270.89 488.29,269.89 488.19,268.90" fill="#0a9670" opacity="0.92"/>
<polygon points="590.70,268.90 590.43,269.89 590.47,270.89 590.75,271.88 590.46,272.88 590.50,273.87 590.73,274.87 590.58,275.86 590.62,276.86 590.53,277.85 590.88,278.85 590.75,279.84 590.49,280.84 590.58,281.83 590.44,282.83 590.74,283.82 590.62,284.82 590.69,285.81 590.83,286.81 590.57,287.80 592.70,287.80 592.80,286.81 592.73,285.81 592.89,284.82 592.52,283.82 592.76,282.83 592.86,281.83 592.58,280.84 592.59,279.84 592.99,278.85 592.62,277.85 592.70,276.86 592.98,275.86 592.98,274.87 592.80,273.87 592.59,272.88 592.81,271.88 592.52,270.89 592.53,269.89 592.98,268.90" fill="#0a9670" opacity="0.92"/>
<polygon points="617.33,268.90 617.31,269.89 616.83,270.89 616.98,271.88 616.74,272.88 617.23,273.87 616.74,274.87 617.00,275.86 617.09,276.86 616.99,277.85 617.33,278.85 617.12,279.84 616.97,280.84 617.30,281.83 617.23,282.83 617.36,283.82 616.94,284.82 616.90,285.81 616.84,286.81 617.04,287.80 619.61,287.80 619.97,286.81 619.82,285.81 619.91,284.82 619.87,283.82 619.95,282.83 619.93,281.83 619.61,280.84 619.64,279.84 620.02,278.85 620.04,277.85 619.89,276.86 619.86,275.86 619.94,274.87 619.76,273.87 619.94,272.88 619.87,271.88 619.55,270.89 619.79,269.89 619.97,268.90" fill="#0a9670" opacity="0.92"/>
<line x1="444.9" y1="287.80" x2="444.9" y2="306.70" stroke="#d7a2f1" stroke-width="1.4"/>
<polygon points="457.50,287.80 457.50,288.79 457.23,289.79 457.38,290.78 457.38,291.78 457.50,292.77 457.45,293.77 457.27,294.76 457.48,295.76 457.43,296.75 457.43,297.75 457.21,298.74 457.43,299.74 457.40,300.73 457.31,301.73 457.50,302.72 457.32,303.72 457.46,304.71 457.33,305.71 457.32,306.70 459.01,306.70 458.98,305.71 458.94,304.71 458.87,303.72 459.02,302.72 459.00,301.73 458.77,300.73 458.75,299.74 458.85,298.74 458.90,297.75 458.77,296.75 458.83,295.76 458.72,294.76 458.71,293.77 458.71,292.77 458.82,291.78 458.99,290.78 458.94,289.79 458.94,288.79 458.71,287.80" fill="#8f0ad0" opacity="1.0"/>
<polygon points="467.94,287.80 468.06,288.79 468.03,289.79 468.16,290.78 468.06,291.78 468.01,292.77 467.84,293.77 467.75,294.76 467.77,295.76 468.12,296.75 467.93,297.75 468.05,298.74 467.88,299.74 467.81,300.73 468.09,301.73 467.81,302.72 467.88,303.72 468.14,304.71 468.08,305.71 468.13,306.70 469.73,306.70 469.74,305.71 469.84,304.71 469.70,303.72 469.85,302.72 469.68,301.73 469.69,300.73 470.04,299.74 469.95,298.74 469.84,297.75 469.65,296.75 470.00,295.76 469.84,294.76 469.99,293.77 469.80,292.77 469.69,291.78 469.87,290.78 469.65,289.79 469.69,288.79 469.68,287.80" fill="#8f0ad0" opacity="1.0"/>
<polygon points="497.38,287.80 497.42,288.79 497.23,289.79 497.35,290.78 496.92,291.78 497.33,292.77 497.29,293.77 497.13,294.76 497.42,295.76 496.95,296.75 497.18,297.75 496.96,298.74 497.13,299.74 497.02,300.73 497.18,301.73 497.20,302.72 497.37,303.72 497.42,304.71 496.94,305.71 497.42,306.70 499.58,306.70 499.70,305.71 499.93,304.71 499.57,303.72 499.46,302.72 499.80,301.73 499.57,300.73 499.65,299.74 499.44,298.74 499.60,297.75 499.76,296.75 499.89,295.76 499.84,294.76 499.50,293.77 499.75,292.77 499.89,291.78 499.62,290.78 499.67,289.79 499.81,288.79 499.72,287.80" fill="#8f0ad0" opacity="1.0"/>
<line x1="498.6" y1="287.80" x2="498.6" y2="306.70" stroke="#fba274" stroke-width="1.0" opacity="0.8"/>
<polygon points="516.27,287.80 516.09,288.79 516.12,289.79 516.29,290.78 516.41,291.78 516.20,292.77 516.30,293.77 516.38,294.76 516.20,295.76 516.18,296.75 516.16,297.75 516.10,298.74 516.27,299.74 516.25,300.73 516.37,301.73 516.31,302.72 516.42,303.72 516.32,304.71 516.09,305.71 516.41,306.70 517.69,306.70 517.72,305.71 517.58,304.71 517.81,303.72 517.90,302.72 517.81,301.73 517.62,300.73 517.65,299.74 517.58,298.74 517.91,297.75 517.91,296.75 517.79,295.76 517.81,294.76 517.76,293.77 517.91,292.77 517.81,291.78 517.77,290.78 517.68,289.79 517.65,288.79 517.69,287.80" fill="#f97e45" opacity="0.92"/>
<polygon points="574.48,287.80 574.41,288.79 574.49,289.79 574.21,290.78 574.29,291.78 574.26,292.77 574.34,293.77 574.46,294.76 574.68,295.76 574.55,296.75 574.61,297.75 574.26,298.74 574.34,299.74 574.38,300.73 574.67,301.73 574.69,302.72 574.52,303.72 574.56,304.71 574.38,305.71 574.33,306.70 576.38,306.70 576.74,305.71 576.57,304.71 576.39,303.72 576.61,302.72 576.79,301.73 576.63,300.73 576.38,299.74 576.67,298.74 576.78,297.75 576.34,296.75 576.50,295.76 576.46,294.76 576.73,293.77 576.76,292.77 576.71,291.78 576.41,290.78 576.71,289.79 576.75,288.79 576.31,287.80" fill="#f97e45" opacity="0.92"/>
<polygon points="616.84,287.80 617.11,288.79 616.84,289.79 617.10,290.78 617.00,291.78 616.75,292.77 617.00,293.77 617.21,294.76 617.25,295.76 616.80,296.75 616.98,297.75 617.22,298.74 617.16,299.74 617.02,300.73 617.31,301.73 616.85,302.72 616.79,303.72 616.79,304.71 617.00,305.71 617.06,306.70 620.02,306.70 619.63,305.71 619.84,304.71 619.65,303.72 619.48,302.72 619.81,301.73 619.75,300.73 619.96,299.74 619.58,298.74 619.65,297.75 619.74,296.75 619.59,295.76 619.59,294.76 619.59,293.77 619.47,292.77 619.78,291.78 619.79,290.78 619.75,289.79 619.94,288.79 619.53,287.80" fill="#f97e45" opacity="0.92"/>
<line x1="444.9" y1="306.70" x2="444.9" y2="325.60" stroke="#fdc9ae" stroke-width="1.2"/>
<polygon points="462.87,306.70 462.89,307.69 463.07,308.69 462.93,309.68 462.81,310.68 463.05,311.67 462.85,312.67 462.82,313.66 462.90,314.66 463.02,315.65 462.95,316.65 463.00,317.64 463.00,318.64 463.07,319.63 462.87,320.63 462.86,321.62 463.01,322.62 462.90,323.61 463.00,324.61 462.92,325.60 464.31,325.60 464.17,324.61 464.18,323.61 464.40,322.62 464.13,321.62 464.22,320.63 464.10,319.63 464.13,318.64 464.23,317.64 464.15,316.65 464.32,315.65 464.13,314.66 464.25,313.66 464.29,312.67 464.29,311.67 464.14,310.68 464.15,309.68 464.31,308.69 464.20,307.69 464.15,306.70" fill="#f97e45" opacity="1.0"/>
<polygon points="521.02,306.70 520.84,307.69 521.29,308.69 520.86,309.68 521.04,310.68 521.13,311.67 521.20,312.67 521.26,313.66 521.04,314.66 521.04,315.65 521.14,316.65 521.09,317.64 520.83,318.64 521.20,319.63 520.96,320.63 521.09,321.62 520.98,322.62 520.99,323.61 520.94,324.61 521.02,325.60 522.91,325.60 523.38,324.61 523.25,323.61 523.24,322.62 523.26,321.62 522.93,320.63 522.96,319.63 523.25,318.64 523.38,317.64 523.25,316.65 522.97,315.65 522.98,314.66 523.30,313.66 523.05,312.67 523.15,311.67 523.00,310.68 523.15,309.68 523.35,308.69 523.17,307.69 522.98,306.70" fill="#f97e45" opacity="1.0"/>
<polygon points="563.73,306.70 564.14,307.69 563.77,308.69 564.07,309.68 563.89,310.68 563.69,311.67 563.87,312.67 564.21,313.66 564.17,314.66 564.14,315.65 564.20,316.65 564.19,317.64 563.79,318.64 563.94,319.63 563.88,320.63 564.00,321.62 563.83,322.62 563.95,323.61 564.04,324.61 563.97,325.60 566.13,325.60 566.08,324.61 566.21,323.61 566.25,322.62 566.10,321.62 566.26,320.63 566.16,319.63 566.26,318.64 566.28,317.64 566.33,316.65 566.30,315.65 566.40,314.66 566.15,313.66 566.45,312.67 566.01,311.67 566.34,310.68 566.05,309.68 566.45,308.69 566.32,307.69 566.37,306.70" fill="#f97e45" opacity="1.0"/>
<line x1="452.9" y1="306.70" x2="452.9" y2="325.60" stroke="#ec6b6b" stroke-width="1.6" opacity="0.8"/>
<polygon points="468.16,306.70 468.16,307.69 467.95,308.69 468.05,309.68 467.97,310.68 468.13,311.67 468.04,312.67 467.94,313.66 467.99,314.66 467.99,315.65 468.14,316.65 467.95,317.64 468.11,318.64 468.10,319.63 467.96,320.63 468.00,321.62 468.23,322.62 468.12,323.61 468.17,324.61 467.99,325.60 469.60,325.60 469.64,324.61 469.93,323.61 469.76,322.62 469.57,321.62 469.58,320.63 469.83,319.63 469.82,318.64 469.86,317.64 469.64,316.65 469.85,315.65 469.67,314.66 469.73,313.66 469.84,312.67 469.87,311.67 469.71,310.68 469.70,309.68 469.92,308.69 469.76,307.69 469.83,306.70" fill="#e01418" opacity="0.92"/>
<polygon points="542.51,306.70 542.34,307.69 542.23,308.69 542.46,309.68 542.54,310.68 542.32,311.67 542.25,312.67 542.18,313.66 542.23,314.66 542.54,315.65 542.54,316.65 542.31,317.64 542.49,318.64 542.15,319.63 542.32,320.63 542.40,321.62 542.10,322.62 542.29,323.61 542.28,324.61 542.26,325.60 544.75,325.60 544.79,324.61 544.39,323.61 544.59,322.62 544.52,321.62 544.60,320.63 544.86,319.63 544.58,318.64 544.49,317.64 544.86,316.65 544.56,315.65 544.87,314.66 544.47,313.66 544.90,312.67 544.61,311.67 544.85,310.68 544.86,309.68 544.64,308.69 544.58,307.69 544.78,306.70" fill="#e01418" opacity="0.92"/>
<polygon points="617.03,306.70 616.63,307.69 617.02,308.69 616.75,309.68 617.22,310.68 617.01,311.67 616.83,312.67 616.83,313.66 617.02,314.66 616.70,315.65 616.82,316.65 616.86,317.64 616.69,318.64 616.78,319.63 616.78,320.63 616.87,321.62 617.15,322.62 616.80,323.61 616.94,324.61 616.65,325.60 619.77,325.60 620.18,324.61 620.03,323.61 620.06,322.62 619.54,321.62 619.91,320.63 620.09,319.63 620.18,318.64 620.12,317.64 619.79,316.65 619.66,315.65 619.86,314.66 619.95,313.66 619.54,312.67 619.90,311.67 619.67,310.68 620.09,309.68 619.71,308.69 619.97,307.69 619.64,306.70" fill="#e01418" opacity="0.92"/>
<line x1="444.9" y1="325.60" x2="444.9" y2="344.50" stroke="#fdc9ae" stroke-width="1.2"/>
<polygon points="462.87,325.60 463.03,326.59 462.96,327.59 463.04,328.58 462.88,329.58 462.93,330.57 462.83,331.57 462.86,332.56 462.83,333.56 462.91,334.55 462.95,335.55 463.01,336.54 463.09,337.54 462.95,338.53 462.91,339.53 462.86,340.52 462.91,341.52 462.98,342.51 462.89,343.51 463.09,344.50 464.21,344.50 464.13,343.51 464.27,342.51 464.20,341.52 464.36,340.52 464.36,339.53 464.25,338.53 464.15,337.54 464.25,336.54 464.19,335.55 464.23,334.55 464.13,333.56 464.10,332.56 464.24,331.57 464.40,330.57 464.33,329.58 464.13,328.58 464.22,327.59 464.35,326.59 464.29,325.60" fill="#f97e45" opacity="1.0"/>
<polygon points="520.86,325.60 521.07,326.59 520.97,327.59 520.97,328.58 521.27,329.58 521.00,330.57 521.13,331.57 521.02,332.56 520.92,333.56 521.03,334.55 520.99,335.55 520.82,336.54 521.27,337.54 521.14,338.53 521.04,339.53 520.89,340.52 521.14,341.52 521.12,342.51 521.10,343.51 521.05,344.50 523.06,344.50 522.99,343.51 522.97,342.51 523.03,341.52 523.22,340.52 523.00,339.53 523.15,338.53 523.24,337.54 523.01,336.54 523.26,335.55 523.31,334.55 523.29,333.56 523.10,332.56 523.23,331.57 522.99,330.57 523.08,329.58 523.11,328.58 523.32,327.59 523.07,326.59 523.23,325.60" fill="#f97e45" opacity="1.0"/>
<polygon points="563.98,325.60 563.94,326.59 563.76,327.59 564.04,328.58 564.01,329.58 563.99,330.57 563.92,331.57 563.99,332.56 563.88,333.56 564.20,334.55 564.03,335.55 564.01,336.54 564.18,337.54 564.07,338.53 564.13,339.53 564.12,340.52 563.69,341.52 563.92,342.51 564.05,343.51 564.14,344.50 566.09,344.50 566.27,343.51 566.43,342.51 566.46,341.52 566.26,340.52 566.08,339.53 566.13,338.53 566.50,337.54 566.00,336.54 566.04,335.55 566.42,334.55 566.22,333.56 566.38,332.56 566.43,331.57 566.10,330.57 566.40,329.58 566.27,328.58 566.15,327.59 566.31,326.59 566.06,325.60" fill="#f97e45" opacity="1.0"/>
<line x1="451.4" y1="325.60" x2="451.4" y2="344.50" stroke="#86bde3" stroke-width="1.1" opacity="0.8"/>
<polygon points="544.41,325.60 544.06,326.59 544.08,327.59 544.30,328.58 544.12,329.58 544.16,330.57 544.41,331.57 544.44,332.56 544.37,333.56 544.42,334.55 544.34,335.55 544.09,336.54 544.27,337.54 544.39,338.53 544.33,339.53 544.36,340.52 544.13,341.52 544.16,342.51 544.38,343.51 544.33,344.50 545.91,344.50 545.85,343.51 546.05,342.51 546.13,341.52 545.93,340.52 545.94,339.53 545.81,338.53 545.99,337.54 546.12,336.54 545.84,335.55 546.07,334.55 545.86,333.56 545.93,332.56 546.10,331.57 546.11,330.57 545.87,329.58 545.80,328.58 545.78,327.59 545.89,326.59 545.89,325.60" fill="#55a9de" opacity="0.92"/>
<polygon points="608.04,325.60 608.33,326.59 608.15,327.59 607.96,328.58 608.25,329.58 608.09,330.57 608.09,331.57 608.21,332.56 608.16,333.56 608.31,334.55 608.15,335.55 608.03,336.54 608.09,337.54 607.99,338.53 608.20,339.53 608.10,340.52 608.04,341.52 607.95,342.51 608.05,343.51 608.17,344.50 609.89,344.50 609.98,343.51 609.97,342.51 609.83,341.52 609.88,340.52 609.84,339.53 609.76,338.53 609.97,337.54 609.94,336.54 609.96,335.55 609.84,334.55 609.71,333.56 609.81,332.56 609.94,331.57 609.74,330.57 610.00,329.58 609.95,328.58 609.85,327.59 609.80,326.59 609.74,325.60" fill="#55a9de" opacity="0.92"/>
<polygon points="617.13,325.60 617.22,326.59 617.28,327.59 617.16,328.58 617.01,329.58 617.33,330.57 616.80,331.57 617.06,332.56 616.88,333.56 616.98,334.55 616.85,335.55 616.86,336.54 617.07,337.54 617.05,338.53 616.75,339.53 616.86,340.52 617.22,341.52 617.07,342.51 617.23,343.51 617.19,344.50 619.58,344.50 619.63,343.51 619.57,342.51 619.79,341.52 619.46,340.52 620.02,339.53 619.96,338.53 619.71,337.54 619.73,336.54 619.80,335.55 619.53,334.55 619.98,333.56 619.53,332.56 619.70,331.57 619.56,330.57 619.86,329.58 619.95,328.58 619.93,327.59 619.62,326.59 619.52,325.60" fill="#55a9de" opacity="0.92"/>
<line x1="444.9" y1="344.50" x2="444.9" y2="363.40" stroke="#fdc9ae" stroke-width="1.2"/>
<polygon points="462.97,344.50 462.91,345.49 462.82,346.49 463.01,347.48 462.97,348.48 462.83,349.47 463.06,350.47 462.87,351.46 462.88,352.46 462.95,353.45 462.89,354.45 462.91,355.44 463.02,356.44 462.87,357.43 462.90,358.43 463.01,359.42 463.10,360.42 462.81,361.41 462.92,362.41 462.92,363.40 464.19,363.40 464.38,362.41 464.33,361.41 464.16,360.42 464.33,359.42 464.13,358.43 464.10,357.43 464.13,356.44 464.34,355.44 464.24,354.45 464.18,353.45 464.13,352.46 464.13,351.46 464.12,350.47 464.35,349.47 464.32,348.48 464.15,347.48 464.29,346.49 464.24,345.49 464.29,344.50" fill="#f97e45" opacity="1.0"/>
<polygon points="520.84,344.50 521.06,345.49 521.02,346.49 521.21,347.48 520.89,348.48 521.24,349.47 521.13,350.47 521.03,351.46 520.93,352.46 521.23,353.45 520.99,354.45 521.28,355.44 521.11,356.44 521.22,357.43 520.87,358.43 521.15,359.42 520.91,360.42 521.13,361.41 520.82,362.41 520.97,363.40 523.20,363.40 523.12,362.41 523.23,361.41 523.22,360.42 523.26,359.42 523.05,358.43 523.14,357.43 523.21,356.44 522.91,355.44 523.33,354.45 522.95,353.45 523.18,352.46 523.19,351.46 523.18,350.47 523.11,349.47 523.10,348.48 523.14,347.48 523.28,346.49 523.12,345.49 523.37,344.50" fill="#f97e45" opacity="1.0"/>
<polygon points="563.86,344.50 564.04,345.49 564.10,346.49 563.97,347.48 563.75,348.48 563.72,349.47 563.70,350.47 563.88,351.46 563.89,352.46 563.90,353.45 563.96,354.45 564.20,355.44 563.92,356.44 564.20,357.43 564.03,358.43 563.89,359.42 563.83,360.42 563.71,361.41 564.15,362.41 563.92,363.40 566.39,363.40 566.09,362.41 566.22,361.41 566.04,360.42 566.39,359.42 566.43,358.43 566.16,357.43 566.11,356.44 566.19,355.44 566.14,354.45 566.05,353.45 566.25,352.46 566.08,351.46 566.37,350.47 566.48,349.47 566.37,348.48 566.41,347.48 566.15,346.49 566.14,345.49 566.05,344.50" fill="#f97e45" opacity="1.0"/>
<line x1="477.1" y1="344.50" x2="477.1" y2="363.40" stroke="#57b99a" stroke-width="1.2" opacity="0.8"/>
<polygon points="486.67,344.50 486.76,345.49 486.90,346.49 486.66,347.48 486.72,348.48 486.73,349.47 486.68,350.47 486.82,351.46 486.90,352.46 486.68,353.45 486.58,354.45 486.62,355.44 486.58,356.44 486.65,357.43 486.61,358.43 486.76,359.42 486.86,360.42 486.66,361.41 486.87,362.41 486.83,363.40 488.11,363.40 488.09,362.41 488.16,361.41 488.22,360.42 488.12,359.42 488.14,358.43 488.11,357.43 488.13,356.44 488.24,355.44 488.21,354.45 488.32,353.45 488.11,352.46 488.10,351.46 488.28,350.47 488.39,349.47 488.09,348.48 488.27,347.48 488.39,346.49 488.22,345.49 488.13,344.50" fill="#0a9670" opacity="0.92"/>
<polygon points="590.87,344.50 590.70,345.49 590.46,346.49 590.74,347.48 590.76,348.48 590.65,349.47 590.62,350.47 590.69,351.46 590.54,352.46 590.45,353.45 590.65,354.45 590.46,355.44 590.65,356.44 590.59,357.43 590.84,358.43 590.88,359.42 590.89,360.42 590.53,361.41 590.70,362.41 590.89,363.40 592.82,363.40 592.61,362.41 592.90,361.41 592.96,360.42 592.94,359.42 592.64,358.43 592.71,357.43 592.86,356.44 592.75,355.44 592.62,354.45 592.90,353.45 592.82,352.46 592.65,351.46 592.64,350.47 592.60,349.47 592.64,348.48 592.79,347.48 592.54,346.49 592.93,345.49 592.71,344.50" fill="#0a9670" opacity="0.92"/>
<polygon points="617.24,344.50 616.79,345.49 616.85,346.49 617.12,347.48 617.03,348.48 616.80,349.47 616.80,350.47 617.14,351.46 616.77,352.46 617.34,353.45 617.00,354.45 617.17,355.44 617.14,356.44 617.09,357.43 616.86,358.43 617.34,359.42 617.36,360.42 617.26,361.41 617.20,362.41 617.32,363.40 619.96,363.40 619.88,362.41 619.59,361.41 619.73,360.42 619.92,359.42 620.03,358.43 619.76,357.43 619.69,356.44 619.90,355.44 619.67,354.45 619.68,353.45 619.56,352.46 619.87,351.46 619.73,350.47 619.85,349.47 619.88,348.48 619.56,347.48 619.60,346.49 619.98,345.49 619.79,344.50" fill="#0a9670" opacity="0.92"/>
<line x1="444.9" y1="363.40" x2="444.9" y2="382.30" stroke="#fdc9ae" stroke-width="1.2"/>
<polygon points="463.06,363.40 463.04,364.39 462.89,365.39 463.04,366.38 463.05,367.38 462.85,368.37 462.97,369.37 462.90,370.36 462.85,371.36 462.87,372.35 462.90,373.35 462.89,374.34 462.92,375.34 462.93,376.33 462.80,377.33 462.91,378.32 463.09,379.32 462.88,380.31 462.83,381.31 462.97,382.30 464.25,382.30 464.31,381.31 464.11,380.31 464.17,379.32 464.10,378.32 464.36,377.33 464.21,376.33 464.10,375.34 464.18,374.34 464.35,373.35 464.35,372.35 464.32,371.36 464.13,370.36 464.16,369.37 464.15,368.37 464.30,367.38 464.35,366.38 464.21,365.39 464.24,364.39 464.18,363.40" fill="#f97e45" opacity="1.0"/>
<polygon points="520.93,363.40 521.28,364.39 521.29,365.39 520.87,366.38 520.82,367.38 521.20,368.37 521.07,369.37 520.88,370.36 520.94,371.36 520.90,372.35 521.09,373.35 521.11,374.34 521.25,375.34 521.08,376.33 521.26,377.33 520.86,378.32 521.15,379.32 521.12,380.31 521.26,381.31 521.02,382.30 523.13,382.30 523.28,381.31 523.23,380.31 523.36,379.32 523.07,378.32 523.09,377.33 523.07,376.33 523.30,375.34 523.20,374.34 523.29,373.35 523.25,372.35 523.10,371.36 523.17,370.36 523.30,369.37 523.24,368.37 523.25,367.38 523.32,366.38 523.34,365.39 523.09,364.39 523.05,363.40" fill="#f97e45" opacity="1.0"/>
<polygon points="564.09,363.40 563.74,364.39 564.11,365.39 564.05,366.38 563.75,367.38 563.95,368.37 564.19,369.37 563.92,370.36 564.02,371.36 564.20,372.35 563.72,373.35 563.69,374.34 563.90,375.34 563.90,376.33 564.10,377.33 563.81,378.32 563.95,379.32 564.03,380.31 563.86,381.31 564.21,382.30 566.09,382.30 566.31,381.31 566.25,380.31 566.19,379.32 566.15,378.32 566.30,377.33 566.44,376.33 566.49,375.34 566.24,374.34 566.22,373.35 566.08,372.35 566.08,371.36 566.41,370.36 566.51,369.37 566.16,368.37 566.06,367.38 566.46,366.38 566.12,365.39 566.31,364.39 566.15,363.40" fill="#f97e45" opacity="1.0"/>
<line x1="565.3" y1="363.40" x2="565.3" y2="382.30" stroke="#b763e6" stroke-width="1.2" opacity="0.8"/>
<polygon points="578.00,363.40 577.93,364.39 578.03,365.39 578.11,366.38 578.15,367.38 578.07,368.37 578.02,369.37 578.09,370.36 578.06,371.36 578.05,372.35 577.93,373.35 578.14,374.34 577.93,375.34 578.16,376.33 578.13,377.33 578.16,378.32 577.98,379.32 578.15,380.31 577.97,381.31 578.01,382.30 579.29,382.30 579.37,381.31 579.47,380.31 579.48,379.32 579.40,378.32 579.21,377.33 579.50,376.33 579.38,375.34 579.38,374.34 579.42,373.35 579.32,372.35 579.31,371.36 579.22,370.36 579.28,369.37 579.20,368.37 579.38,367.38 579.49,366.38 579.45,365.39 579.22,364.39 579.20,363.40" fill="#8f0ad0" opacity="0.92"/>
<polygon points="587.86,363.40 587.68,364.39 587.94,365.39 587.93,366.38 587.97,367.38 587.73,368.37 587.85,369.37 587.80,370.36 587.81,371.36 587.84,372.35 587.54,373.35 587.92,374.34 587.88,375.34 587.81,376.33 587.64,377.33 587.63,378.32 587.76,379.32 587.67,380.31 587.95,381.31 587.95,382.30 589.54,382.30 589.77,381.31 589.69,380.31 589.70,379.32 589.74,378.32 589.60,377.33 589.78,376.33 589.44,375.34 589.46,374.34 589.57,373.35 589.85,372.35 589.66,371.36 589.64,370.36 589.86,369.37 589.67,368.37 589.44,367.38 589.68,366.38 589.68,365.39 589.67,364.39 589.70,363.40" fill="#8f0ad0" opacity="0.92"/>
<polygon points="617.06,363.40 616.95,364.39 616.85,365.39 617.22,366.38 616.75,367.38 617.05,368.37 616.84,369.37 616.99,370.36 617.32,371.36 616.94,372.35 616.82,373.35 617.18,374.34 616.81,375.34 617.05,376.33 617.25,377.33 616.87,378.32 617.24,379.32 616.74,380.31 617.25,381.31 617.22,382.30 619.92,382.30 619.50,381.31 619.98,380.31 619.58,379.32 620.02,378.32 619.95,377.33 619.53,376.33 619.94,375.34 619.80,374.34 619.63,373.35 619.54,372.35 619.48,371.36 619.78,370.36 619.96,369.37 620.02,368.37 619.61,367.38 620.02,366.38 619.79,365.39 619.94,364.39 619.68,363.40" fill="#8f0ad0" opacity="0.92"/>
<line x1="442.6" y1="4.30" x2="623.5" y2="4.30" stroke="#222" stroke-width="0.7"/>
<line x1="442.6" y1="23.20" x2="623.5" y2="23.20" stroke="#222" stroke-width="0.7"/>
<line x1="442.6" y1="42.10" x2="623.5" y2="42.10" stroke="#222" stroke-width="0.7"/>
<line x1="442.6" y1="61.00" x2="623.5" y2="61.00" stroke="#222" stroke-width="0.7"/>
<line x1="442.6" y1="79.90" x2="623.5" y2="79.90" stroke="#222" stroke-width="0.7"/>
<line x1="442.6" y1="98.80" x2="623.5" y2="98.80" stroke="#222" stroke-width="0.7"/>
<line x1="442.6" y1="117.70" x2="623.5" y2="117.70" stroke="#222" stroke-width="0.7"/>
<line x1="442.6" y1="136.60" x2="623.5" y2="136.60" stroke="#222" stroke-width="0.7"/>
<line x1="442.6" y1="155.50" x2="623.5" y2="155.50" stroke="#222" stroke-width="0.7"/>
<line x1="442.6" y1="174.40" x2="623.5" y2="174.40" stroke="#222" stroke-width="0.7"/>
<line x1="442.6" y1="193.30" x2="623.5" y2="193.30" stroke="#222" stroke-width="0.7"/>
<line x1="442.6" y1="212.20" x2="623.5" y2="212.20" stroke="#222" stroke-width="0.7"/>
<line x1="442.6" y1="231.10" x2="623.5" y2="231.10" stroke="#222" stroke-width="0.7"/>
<line x1="442.6" y1="250.00" x2="623.5" y2="250.00" stroke="#222" stroke-width="0.7"/>
<line x1="442.6" y1="268.90" x2="623.5" y2="268.90" stroke="#222" stroke-width="0.7"/>
<line x1="442.6" y1="287.80" x2="623.5" y2="287.80" stroke="#222" stroke-width="0.7"/>
<line x1="442.6" y1="306.70" x2="623.5" y2="306.70" stroke="#222" stroke-width="0.7"/>
<line x1="442.6" y1="325.60" x2="623.5" y2="325.60" stroke="#222" stroke-width="0.7"/>
<line x1="442.6" y1="344.50" x2="623.5" y2="344.50" stroke="#222" stroke-width="0.7"/>
<line x1="442.6" y1="363.40" x2="623.5" y2="363.40" stroke="#222" stroke-width="0.7"/>
<line x1="442.6" y1="382.30" x2="623.5" y2="382.30" stroke="#222" stroke-width="0.7"/>
<line x1="442.6" y1="4.3" x2="442.6" y2="382.3" stroke="#222" stroke-width="0.7"/>
<line x1="623.5" y1="4.3" x2="623.5" y2="382.3" stroke="#222" stroke-width="0.7"/>
<line x1="444.9" y1="382.3" x2="444.9" y2="387.6" stroke="#555" stroke-width="0.8"/>
<line x1="618.4" y1="382.3" x2="618.4" y2="387.6" stroke="#555" stroke-width="0.8"/>
<text x="445.5" y="401.2" font-size="13.5" text-anchor="middle" fill="#111">0</text>
<text x="617.6" y="401.2" font-size="13.5" text-anchor="middle" fill="#111">6.5</text>
<text x="537.6" y="413.7" font-size="13.5" text-anchor="middle" fill="#111">Time [s]</text>
<text y="11.50" fill="#111"><tspan x="629.0" font-size="10.6">N</tspan><tspan x="638.1" dy="3.1" font-size="7.5">1</tspan><tspan x="641.8" dy="-4.1" font-size="12.4">–</tspan><tspan x="648.3" dy="1" font-size="10.6">N</tspan><tspan x="655.6" dy="3.1" font-size="7.5">2</tspan></text>
<text y="30.40" fill="#111"><tspan x="629.0" font-size="10.6">N</tspan><tspan x="638.1" dy="3.1" font-size="7.5">1</tspan><tspan x="641.8" dy="-4.1" font-size="12.4">–</tspan><tspan x="648.3" dy="1" font-size="10.6">N</tspan><tspan x="655.6" dy="3.1" font-size="7.5">3</tspan></text>
<text y="49.30" fill="#111"><tspan x="629.0" font-size="10.6">N</tspan><tspan x="638.1" dy="3.1" font-size="7.5">1</tspan><tspan x="641.8" dy="-4.1" font-size="12.4">–</tspan><tspan x="648.3" dy="1" font-size="10.6">N</tspan><tspan x="655.6" dy="3.1" font-size="7.5">4</tspan></text>
<text y="68.20" fill="#111"><tspan x="629.0" font-size="10.6">N</tspan><tspan x="638.1" dy="3.1" font-size="7.5">1</tspan><tspan x="641.8" dy="-4.1" font-size="12.4">–</tspan><tspan x="648.3" dy="1" font-size="10.6">N</tspan><tspan x="655.6" dy="3.1" font-size="7.5">5</tspan></text>
<text y="87.10" fill="#111"><tspan x="629.0" font-size="10.6">N</tspan><tspan x="638.1" dy="3.1" font-size="7.5">2</tspan><tspan x="641.8" dy="-4.1" font-size="12.4">–</tspan><tspan x="648.3" dy="1" font-size="10.6">N</tspan><tspan x="655.6" dy="3.1" font-size="7.5">1</tspan></text>
<text y="106.00" fill="#111"><tspan x="629.0" font-size="10.6">N</tspan><tspan x="638.1" dy="3.1" font-size="7.5">2</tspan><tspan x="641.8" dy="-4.1" font-size="12.4">–</tspan><tspan x="648.3" dy="1" font-size="10.6">N</tspan><tspan x="655.6" dy="3.1" font-size="7.5">3</tspan></text>
<text y="124.90" fill="#111"><tspan x="629.0" font-size="10.6">N</tspan><tspan x="638.1" dy="3.1" font-size="7.5">2</tspan><tspan x="641.8" dy="-4.1" font-size="12.4">–</tspan><tspan x="648.3" dy="1" font-size="10.6">N</tspan><tspan x="655.6" dy="3.1" font-size="7.5">4</tspan></text>
<text y="143.80" fill="#111"><tspan x="629.0" font-size="10.6">N</tspan><tspan x="638.1" dy="3.1" font-size="7.5">2</tspan><tspan x="641.8" dy="-4.1" font-size="12.4">–</tspan><tspan x="648.3" dy="1" font-size="10.6">N</tspan><tspan x="655.6" dy="3.1" font-size="7.5">5</tspan></text>
<text y="162.70" fill="#111"><tspan x="629.0" font-size="10.6">N</tspan><tspan x="638.1" dy="3.1" font-size="7.5">3</tspan><tspan x="641.8" dy="-4.1" font-size="12.4">–</tspan><tspan x="648.3" dy="1" font-size="10.6">N</tspan><tspan x="655.6" dy="3.1" font-size="7.5">1</tspan></text>
<text y="181.60" fill="#111"><tspan x="629.0" font-size="10.6">N</tspan><tspan x="638.1" dy="3.1" font-size="7.5">3</tspan><tspan x="641.8" dy="-4.1" font-size="12.4">–</tspan><tspan x="648.3" dy="1" font-size="10.6">N</tspan><tspan x="655.6" dy="3.1" font-size="7.5">2</tspan></text>
<text y="200.50" fill="#111"><tspan x="629.0" font-size="10.6">N</tspan><tspan x="638.1" dy="3.1" font-size="7.5">3</tspan><tspan x="641.8" dy="-4.1" font-size="12.4">–</tspan><tspan x="648.3" dy="1" font-size="10.6">N</tspan><tspan x="655.6" dy="3.1" font-size="7.5">4</tspan></text>
<text y="219.40" fill="#111"><tspan x="629.0" font-size="10.6">N</tspan><tspan x="638.1" dy="3.1" font-size="7.5">3</tspan><tspan x="641.8" dy="-4.1" font-size="12.4">–</tspan><tspan x="648.3" dy="1" font-size="10.6">N</tspan><tspan x="655.6" dy="3.1" font-size="7.5">5</tspan></text>
<text y="238.30" fill="#111"><tspan x="629.0" font-size="10.6">N</tspan><tspan x="638.1" dy="3.1" font-size="7.5">4</tspan><tspan x="641.8" dy="-4.1" font-size="12.4">–</tspan><tspan x="648.3" dy="1" font-size="10.6">N</tspan><tspan x="655.6" dy="3.1" font-size="7.5">1</tspan></text>
<text y="257.20" fill="#111"><tspan x="629.0" font-size="10.6">N</tspan><tspan x="638.1" dy="3.1" font-size="7.5">4</tspan><tspan x="641.8" dy="-4.1" font-size="12.4">–</tspan><tspan x="648.3" dy="1" font-size="10.6">N</tspan><tspan x="655.6" dy="3.1" font-size="7.5">2</tspan></text>
<text y="276.10" fill="#111"><tspan x="629.0" font-size="10.6">N</tspan><tspan x="638.1" dy="3.1" font-size="7.5">4</tspan><tspan x="641.8" dy="-4.1" font-size="12.4">–</tspan><tspan x="648.3" dy="1" font-size="10.6">N</tspan><tspan x="655.6" dy="3.1" font-size="7.5">3</tspan></text>
<text y="295.00" fill="#111"><tspan x="629.0" font-size="10.6">N</tspan><tspan x="638.1" dy="3.1" font-size="7.5">4</tspan><tspan x="641.8" dy="-4.1" font-size="12.4">–</tspan><tspan x="648.3" dy="1" font-size="10.6">N</tspan><tspan x="655.6" dy="3.1" font-size="7.5">5</tspan></text>
<text y="313.90" fill="#111"><tspan x="629.0" font-size="10.6">N</tspan><tspan x="638.1" dy="3.1" font-size="7.5">5</tspan><tspan x="641.8" dy="-4.1" font-size="12.4">–</tspan><tspan x="648.3" dy="1" font-size="10.6">N</tspan><tspan x="655.6" dy="3.1" font-size="7.5">1</tspan></text>
<text y="332.80" fill="#111"><tspan x="629.0" font-size="10.6">N</tspan><tspan x="638.1" dy="3.1" font-size="7.5">5</tspan><tspan x="641.8" dy="-4.1" font-size="12.4">–</tspan><tspan x="648.3" dy="1" font-size="10.6">N</tspan><tspan x="655.6" dy="3.1" font-size="7.5">2</tspan></text>
<text y="351.70" fill="#111"><tspan x="629.0" font-size="10.6">N</tspan><tspan x="638.1" dy="3.1" font-size="7.5">5</tspan><tspan x="641.8" dy="-4.1" font-size="12.4">–</tspan><tspan x="648.3" dy="1" font-size="10.6">N</tspan><tspan x="655.6" dy="3.1" font-size="7.5">3</tspan></text>
<text y="370.60" fill="#111"><tspan x="629.0" font-size="10.6">N</tspan><tspan x="638.1" dy="3.1" font-size="7.5">5</tspan><tspan x="641.8" dy="-4.1" font-size="12.4">–</tspan><tspan x="648.3" dy="1" font-size="10.6">N</tspan><tspan x="655.6" dy="3.1" font-size="7.5">4</tspan></text>
</svg></body></html>
